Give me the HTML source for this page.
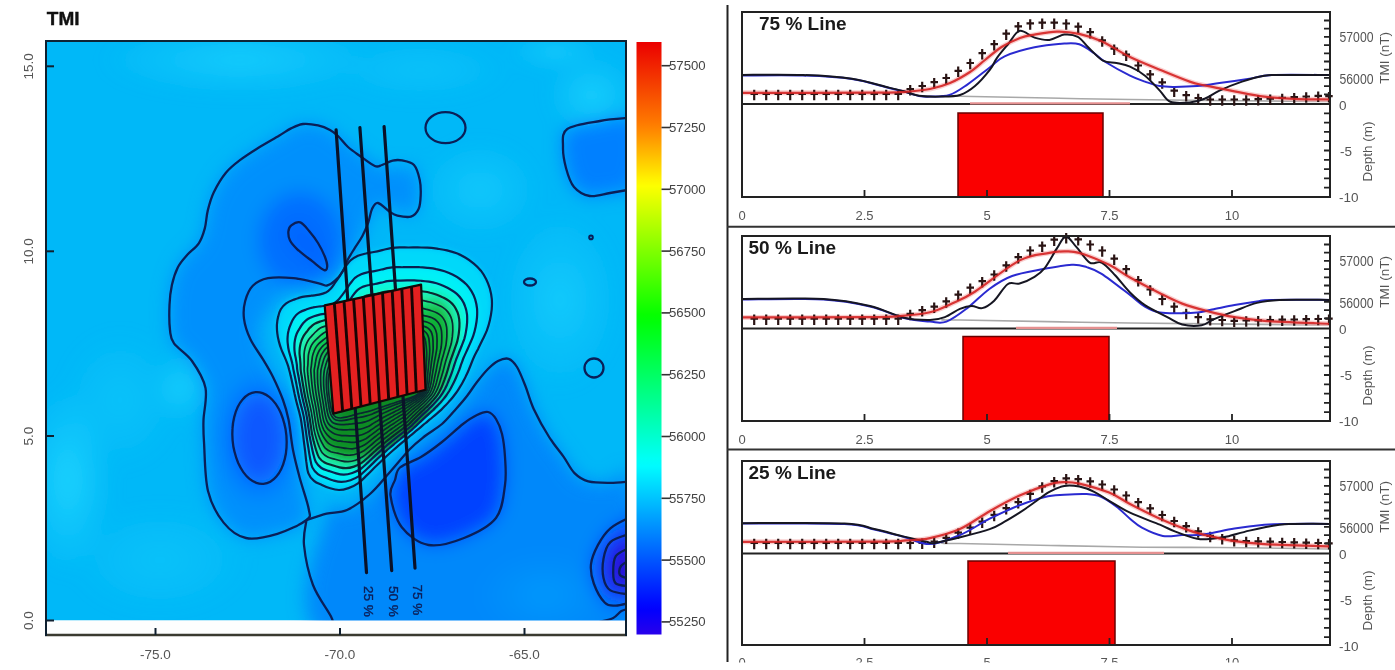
<!DOCTYPE html><html><head><meta charset="utf-8"><title>TMI</title><style>html,body{margin:0;padding:0;background:#fff;width:1395px;height:670px;overflow:hidden}svg{position:absolute;left:0;top:0;display:block;filter:blur(0.4px)}text{font-family:"Liberation Sans",Arial,sans-serif}</style></head><body>
<svg width="1395" height="670" viewBox="0 0 1395 670">
<defs>
<clipPath id="mc"><rect x="46" y="41" width="580" height="579.5"/></clipPath>
<filter id="bl" x="-10%" y="-10%" width="120%" height="120%"><feGaussianBlur stdDeviation="9"/></filter>
<filter id="bl2" x="-20%" y="-20%" width="140%" height="140%"><feGaussianBlur stdDeviation="3"/></filter>
<linearGradient id="cb" x1="0" y1="0" x2="0" y2="1">
<stop offset="0.0000" stop-color="#eb0000"/>
<stop offset="0.0135" stop-color="#ed0c00"/>
<stop offset="0.0270" stop-color="#ef1800"/>
<stop offset="0.0405" stop-color="#f12400"/>
<stop offset="0.0541" stop-color="#f33000"/>
<stop offset="0.0676" stop-color="#f43c00"/>
<stop offset="0.0811" stop-color="#f64800"/>
<stop offset="0.0946" stop-color="#f85400"/>
<stop offset="0.1081" stop-color="#fa6000"/>
<stop offset="0.1216" stop-color="#fc6c00"/>
<stop offset="0.1351" stop-color="#fe7800"/>
<stop offset="0.1486" stop-color="#ff8700"/>
<stop offset="0.1622" stop-color="#ff9800"/>
<stop offset="0.1757" stop-color="#ffaa00"/>
<stop offset="0.1892" stop-color="#ffbb00"/>
<stop offset="0.2027" stop-color="#ffcd00"/>
<stop offset="0.2162" stop-color="#ffde00"/>
<stop offset="0.2297" stop-color="#fff000"/>
<stop offset="0.2432" stop-color="#fdff00"/>
<stop offset="0.2568" stop-color="#eeff00"/>
<stop offset="0.2703" stop-color="#deff00"/>
<stop offset="0.2838" stop-color="#cfff00"/>
<stop offset="0.2973" stop-color="#bfff00"/>
<stop offset="0.3108" stop-color="#b0ff00"/>
<stop offset="0.3243" stop-color="#a0ff00"/>
<stop offset="0.3378" stop-color="#91ff00"/>
<stop offset="0.3514" stop-color="#81ff00"/>
<stop offset="0.3649" stop-color="#72ff00"/>
<stop offset="0.3784" stop-color="#63ff00"/>
<stop offset="0.3919" stop-color="#53ff00"/>
<stop offset="0.4054" stop-color="#44ff00"/>
<stop offset="0.4189" stop-color="#34ff00"/>
<stop offset="0.4324" stop-color="#25ff00"/>
<stop offset="0.4459" stop-color="#15ff00"/>
<stop offset="0.4595" stop-color="#06ff00"/>
<stop offset="0.4730" stop-color="#00ff09"/>
<stop offset="0.4865" stop-color="#00ff17"/>
<stop offset="0.5000" stop-color="#00ff24"/>
<stop offset="0.5135" stop-color="#00ff32"/>
<stop offset="0.5270" stop-color="#00ff40"/>
<stop offset="0.5405" stop-color="#00ff4e"/>
<stop offset="0.5541" stop-color="#00ff5c"/>
<stop offset="0.5676" stop-color="#00ff6a"/>
<stop offset="0.5811" stop-color="#00ff78"/>
<stop offset="0.5946" stop-color="#00ff86"/>
<stop offset="0.6081" stop-color="#00ff93"/>
<stop offset="0.6216" stop-color="#00ffa1"/>
<stop offset="0.6351" stop-color="#00ffaf"/>
<stop offset="0.6486" stop-color="#00ffbd"/>
<stop offset="0.6622" stop-color="#00ffcb"/>
<stop offset="0.6757" stop-color="#00ffd9"/>
<stop offset="0.6892" stop-color="#00ffe7"/>
<stop offset="0.7027" stop-color="#00fff5"/>
<stop offset="0.7162" stop-color="#00fbff"/>
<stop offset="0.7297" stop-color="#00edff"/>
<stop offset="0.7432" stop-color="#00dfff"/>
<stop offset="0.7568" stop-color="#00d1ff"/>
<stop offset="0.7703" stop-color="#00c3ff"/>
<stop offset="0.7838" stop-color="#00b5ff"/>
<stop offset="0.7973" stop-color="#00a6ff"/>
<stop offset="0.8108" stop-color="#0098ff"/>
<stop offset="0.8243" stop-color="#008aff"/>
<stop offset="0.8378" stop-color="#007cff"/>
<stop offset="0.8514" stop-color="#006eff"/>
<stop offset="0.8649" stop-color="#0060ff"/>
<stop offset="0.8784" stop-color="#0051ff"/>
<stop offset="0.8919" stop-color="#0043ff"/>
<stop offset="0.9054" stop-color="#0035ff"/>
<stop offset="0.9189" stop-color="#0027ff"/>
<stop offset="0.9324" stop-color="#0019ff"/>
<stop offset="0.9459" stop-color="#000bff"/>
<stop offset="0.9595" stop-color="#0300fd"/>
<stop offset="0.9730" stop-color="#0f00f7"/>
<stop offset="0.9865" stop-color="#1c00f1"/>
<stop offset="1.0000" stop-color="#2800eb"/>
<stop offset="1" stop-color="#2800eb"/>
</linearGradient>
<radialGradient id="lg"><stop offset="0" stop-color="#28dcff"/><stop offset="1" stop-color="#28dcff" stop-opacity="0"/></radialGradient>
<clipPath id="ringclip"><path d="M463.0,370.0 L460.5,375.8 L457.9,381.2 L455.2,386.4 L452.2,391.3 L449.0,395.9 L445.7,400.1 L442.1,404.1 L438.4,407.7 L434.5,411.0 L430.6,414.1 L426.8,417.1 L423.1,420.0 L419.4,422.9 L415.7,425.8 L411.9,428.8 L408.1,431.8 L404.2,434.9 L400.1,438.2 L395.9,441.6 L391.3,445.4 L386.4,449.6 L381.0,454.5 L374.9,460.2 L367.8,466.9 L359.6,474.3 L350.9,478.6 L342.2,480.3 L334.0,478.9 L326.3,476.1 L318.7,472.8 L313.1,466.2 L310.6,456.3 L308.9,446.7 L307.5,438.1 L306.4,430.1 L305.4,422.7 L304.3,416.0 L302.9,409.9 L301.4,404.1 L300.0,398.4 L298.8,392.7 L297.7,387.1 L296.6,381.4 L295.5,375.8 L294.3,370.0 L292.8,364.0 L290.5,357.7 L287.9,350.8 L285.9,343.6 L284.7,336.1 L284.7,328.5 L286.1,321.1 L288.8,314.2 L293.9,308.9 L301.2,305.6 L308.8,303.2 L316.8,302.0 L324.2,301.2 L330.3,299.3 L335.0,295.6 L339.1,290.3 L343.4,284.4 L347.9,277.4 L353.3,270.8 L359.8,266.9 L366.9,264.7 L374.3,263.5 L381.8,261.8 L389.6,260.0 L397.5,259.2 L405.6,259.3 L414.0,259.2 L422.7,259.4 L431.5,260.2 L440.6,261.6 L449.5,264.0 L457.8,267.9 L465.5,272.9 L472.2,279.0 L477.4,286.6 L481.0,295.1 L482.9,304.4 L482.9,314.2 L481.4,324.0 L478.8,333.3 L474.9,342.2 L471.2,350.2 L467.8,357.4 L465.3,363.9Z"/></clipPath>
<filter id="bl3" x="-50%" y="-50%" width="200%" height="200%"><feGaussianBlur stdDeviation="7"/></filter>
</defs>
<g clip-path="url(#mc)">
<rect x="0" y="0" width="700" height="670" fill="#00b8f8"/>
<g filter="url(#bl)">
<ellipse cx="240" cy="60" rx="140" ry="35" fill="url(#lg)" opacity="0.55"/>
<ellipse cx="560" cy="300" rx="60" ry="90" fill="url(#lg)" opacity="0.5"/>
<ellipse cx="68" cy="480" rx="45" ry="95" fill="url(#lg)" opacity="0.7"/>
<ellipse cx="180" cy="388" rx="28" ry="34" fill="url(#lg)" opacity="0.6"/>
<ellipse cx="120" cy="400" rx="60" ry="70" fill="url(#lg)" opacity="0.3"/>
<ellipse cx="592" cy="95" rx="45" ry="40" fill="url(#lg)" opacity="0.6"/>
<ellipse cx="555" cy="52" rx="45" ry="16" fill="url(#lg)" opacity="0.6"/>
<ellipse cx="160" cy="560" rx="90" ry="55" fill="url(#lg)" opacity="0.3"/>
<ellipse cx="480" cy="190" rx="60" ry="50" fill="url(#lg)" opacity="0.45"/>
<ellipse cx="420" cy="70" rx="90" ry="30" fill="url(#lg)" opacity="0.3"/>
<path d="M330.0,130.0C319.7,123.2 322.5,126.4 318.0,125.4C313.5,124.4 307.5,123.5 303.0,124.0C298.5,124.5 295.0,126.4 291.0,128.4C287.0,130.4 284.4,132.6 279.0,135.8C273.6,139.0 264.9,143.8 258.5,147.8C252.1,151.8 246.1,155.5 240.6,159.7C235.1,163.9 230.2,167.5 225.7,173.0C221.2,178.5 216.7,186.3 213.7,192.5C210.7,198.7 209.3,204.4 207.8,210.4C206.3,216.4 206.3,222.9 204.8,228.4C203.3,233.9 201.8,238.8 198.8,243.3C195.8,247.8 190.4,251.2 186.9,255.2C183.4,259.2 180.4,262.2 177.9,267.2C175.4,272.2 173.3,278.7 171.9,285.0C170.5,291.3 169.8,297.5 169.5,305.0C169.2,312.5 169.2,323.6 170.0,330.0C170.8,336.4 170.3,338.2 174.0,343.4C177.7,348.6 186.8,353.6 192.0,361.0C197.2,368.4 203.6,378.2 205.5,388.0C207.4,397.8 203.8,411.0 203.5,420.0C203.2,429.0 203.2,430.2 204.0,442.0C204.8,453.8 204.7,477.6 208.0,491.0C211.3,504.4 217.3,514.8 223.6,522.6C229.9,530.4 237.0,536.1 246.0,538.0C255.0,539.9 267.3,536.8 277.4,533.8C287.5,530.8 302.7,530.6 306.5,520.0C310.3,509.4 303.6,490.0 300.0,470.0C296.4,450.0 291.7,423.3 285.0,400.0C278.3,376.7 257.5,349.7 260.0,330.0C262.5,310.3 287.5,290.3 300.0,282.0C312.5,273.7 324.2,288.7 335.0,280.0C345.8,271.3 357.8,242.5 365.0,230.0C372.2,217.5 369.7,207.7 378.0,205.0C386.3,202.3 408.7,219.8 415.0,214.0C421.3,208.2 421.8,178.0 416.0,170.0C410.2,162.0 394.3,172.7 380.0,166.0C365.7,159.3 340.3,136.8 330.0,130.0Z" fill="#0090fc"/>
<ellipse cx="300" cy="240" rx="42" ry="48" fill="#0070ff"/>
<path d="M291.3,225.4C293.3,223.9 297.3,221.4 300.3,222.4C303.3,223.4 306.4,227.9 309.3,231.3C312.2,234.7 315.4,238.7 318.0,243.0C320.6,247.3 323.5,253.1 325.0,257.0C326.5,260.9 327.3,264.0 327.2,266.2C327.1,268.4 326.7,270.9 324.2,270.1C321.7,269.3 316.7,264.7 312.2,261.2C307.7,257.7 301.0,252.8 297.3,249.3C293.6,245.8 291.4,243.3 289.9,240.3C288.4,237.3 288.2,233.8 288.4,231.3C288.6,228.8 289.3,226.9 291.3,225.4Z" fill="#0062ff"/>
<ellipse cx="259" cy="438" rx="40" ry="62" fill="#0080ff"/>
<ellipse cx="259" cy="438" rx="26" ry="44" fill="#0858ff"/>
<path d="M326.6,513.6C329.4,491.9 339.8,513.3 347.0,510.0C354.2,506.7 362.8,500.3 370.0,494.0C377.2,487.7 383.3,479.5 390.0,472.0C396.7,464.5 404.2,455.0 410.0,449.0C415.8,443.0 419.7,440.2 425.0,436.0C430.3,431.8 436.8,428.5 442.0,424.0C447.2,419.5 451.8,413.7 456.0,409.0C460.2,404.3 463.5,400.5 467.0,396.0C470.5,391.5 473.5,386.5 477.0,382.0C480.5,377.5 484.5,372.5 488.0,369.0C491.5,365.5 494.6,362.7 498.0,361.0C501.4,359.3 505.4,357.8 508.6,358.8C511.8,359.8 514.2,362.5 517.0,367.0C519.8,371.5 522.6,379.0 525.4,386.0C528.2,393.0 529.7,400.4 533.7,409.0C537.7,417.6 544.4,429.6 549.4,437.5C554.4,445.4 559.3,450.7 563.5,456.6C567.7,462.5 570.4,469.0 574.5,473.1C578.6,477.2 582.3,479.8 588.3,481.4C594.3,483.0 603.4,482.8 610.4,482.8C617.4,482.8 626.7,455.2 630.0,481.4C633.3,507.6 680.0,613.6 630.0,640.0C580.0,666.4 380.6,661.1 330.0,640.0C279.4,618.9 323.8,535.3 326.6,513.6Z" fill="#0088fa"/>
<ellipse cx="545" cy="595" rx="70" ry="45" fill="url(#lg)" opacity="0.18"/>
<path d="M488.0,412.0C491.2,412.7 493.7,415.3 496.0,419.0C498.3,422.7 500.5,427.7 502.0,434.0C503.5,440.3 504.5,448.5 505.0,457.0C505.5,465.5 506.5,474.8 505.0,485.0C503.5,495.2 502.8,509.2 496.0,518.0C489.2,526.8 475.2,533.5 464.0,538.0C452.8,542.5 438.9,546.8 428.5,545.0C418.1,543.2 407.9,535.2 401.6,527.0C395.3,518.8 391.6,503.5 390.5,495.7C389.4,487.9 393.4,484.7 395.0,480.0C396.6,475.3 395.7,471.3 400.0,467.5C404.3,463.7 414.0,461.2 421.0,457.0C428.0,452.8 435.0,447.5 442.0,442.0C449.0,436.5 457.2,428.5 463.0,424.0C468.8,419.5 472.8,417.0 477.0,415.0C481.2,413.0 484.8,411.3 488.0,412.0Z" fill="#0642ff"/>
<path d="M630.0,117.8C623.3,113.0 610.5,119.1 600.0,121.0C589.5,122.9 573.5,124.7 567.3,129.0C561.1,133.3 563.2,140.5 563.0,147.0C562.8,153.5 564.2,161.3 566.0,168.0C567.8,174.7 570.0,182.3 574.0,187.0C578.0,191.7 583.7,195.0 589.7,196.0C595.7,197.0 603.3,194.1 610.0,193.0C616.7,191.9 625.0,196.7 630.0,189.5C635.0,182.3 640.0,161.9 640.0,150.0C640.0,138.1 636.7,122.6 630.0,117.8Z" fill="#0480ff"/>
<path d="M630.0,517.3C625.1,520.3 615.7,523.7 610.4,528.3C605.1,532.9 601.2,538.9 598.0,544.9C594.8,550.9 591.7,557.8 591.0,564.2C590.3,570.6 591.5,577.1 593.8,583.5C596.1,589.9 601.2,599.1 604.9,602.8C608.6,606.5 611.7,605.6 615.9,605.6C620.1,605.6 626.0,602.1 630.0,602.8C634.0,603.5 638.3,625.5 640.0,610.0C641.7,594.5 641.7,525.5 640.0,510.0C638.3,494.6 634.9,514.2 630.0,517.3Z" fill="#0450ff"/>
<path d="M630.0,533.8C625.1,535.8 614.8,538.0 610.4,542.1C606.0,546.2 604.6,552.7 603.5,558.7C602.4,564.7 602.4,572.7 603.5,578.0C604.6,583.3 606.0,587.6 610.4,590.4C614.8,593.2 625.1,594.7 630.0,594.6C634.9,594.5 638.3,600.8 640.0,590.0C641.7,579.2 641.7,539.4 640.0,530.0C638.3,520.6 634.9,531.8 630.0,533.8Z" fill="#1a22f0"/>
<path d="M630.0,547.6C626.0,549.4 618.7,551.8 615.9,555.9C613.1,560.0 613.2,567.9 613.2,572.5C613.2,577.1 613.1,581.2 615.9,583.5C618.7,585.8 626.0,586.9 630.0,586.3C634.0,585.7 638.3,586.9 640.0,580.0C641.7,573.1 641.7,550.4 640.0,545.0C638.3,539.6 634.0,545.8 630.0,547.6Z" fill="#2a08d0"/>
</g>
<g filter="url(#bl2)">
<path d="M468.7,370.0 L465.9,376.1 L462.9,381.9 L459.7,387.4 L456.4,392.5 L452.8,397.2 L449.0,401.6 L445.2,405.7 L441.4,409.6 L437.4,413.2 L433.4,416.5 L429.5,419.7 L425.7,423.0 L421.9,426.1 L418.0,429.3 L414.1,432.6 L410.1,435.9 L406.0,439.3 L401.7,442.9 L397.1,446.8 L392.3,451.0 L387.0,455.7 L381.2,461.2 L374.6,467.5 L367.0,475.1 L358.0,483.3 L348.5,488.1 L339.0,490.0 L330.2,488.3 L321.9,484.9 L314.0,480.9 L308.4,473.3 L306.3,461.7 L305.1,450.9 L303.9,441.6 L302.9,433.0 L301.8,425.3 L300.7,418.3 L299.2,411.9 L297.5,405.8 L296.0,399.9 L294.6,393.9 L293.4,388.0 L292.1,382.1 L290.7,376.1 L289.2,370.0 L287.3,363.7 L284.6,356.9 L281.4,349.5 L278.9,341.6 L277.3,333.3 L276.9,325.0 L278.1,316.9 L280.8,309.2 L286.2,303.3 L294.0,299.6 L302.3,296.9 L311.1,295.7 L319.1,294.7 L325.8,292.6 L330.9,288.4 L335.3,282.4 L339.9,275.8 L344.8,267.8 L350.7,260.3 L357.9,255.8 L365.8,253.5 L373.9,252.0 L382.2,250.1 L390.8,248.1 L399.6,247.3 L408.5,247.5 L417.8,247.4 L427.4,247.7 L437.1,248.7 L447.0,250.4 L456.7,253.3 L465.6,257.8 L473.8,263.6 L480.9,270.7 L486.2,279.2 L489.9,288.7 L491.8,298.9 L491.7,309.6 L489.9,320.2 L486.9,330.4 L482.4,340.1 L478.2,348.7 L474.2,356.5 L471.3,363.5Z" fill="#00d8fa"/>
<path d="M459.2,370.0 L456.9,375.5 L454.6,380.8 L452.1,385.8 L449.5,390.5 L446.6,395.0 L443.4,399.1 L440.0,403.0 L436.5,406.6 L433.1,410.0 L429.5,413.3 L426.1,416.4 L422.7,419.6 L419.3,422.8 L415.8,426.1 L412.3,429.4 L408.5,432.5 L404.5,435.6 L400.4,439.0 L396.1,442.5 L391.5,446.3 L386.5,450.6 L381.0,455.7 L374.8,461.4 L367.7,468.3 L359.4,475.8 L350.5,480.2 L341.6,481.9 L333.4,480.5 L325.5,477.6 L317.9,474.1 L312.3,467.4 L309.9,457.2 L308.3,447.4 L306.9,438.7 L305.8,430.6 L304.8,423.2 L303.7,416.4 L302.3,410.2 L300.7,404.4 L299.3,398.6 L298.1,392.9 L297.0,387.2 L295.9,381.5 L294.7,375.8 L293.5,370.0 L292.4,364.0 L290.8,357.7 L288.9,351.1 L287.8,344.1 L287.6,337.1 L288.6,330.2 L290.9,323.7 L294.1,317.6 L299.1,312.7 L306.0,309.6 L313.2,307.4 L320.6,306.3 L327.6,305.5 L333.3,303.8 L337.8,300.4 L341.7,295.6 L345.8,290.2 L350.0,283.9 L355.0,277.8 L361.1,274.2 L367.7,272.3 L374.5,271.1 L381.5,269.5 L388.7,267.9 L396.1,267.2 L403.6,267.2 L411.4,267.1 L419.5,267.2 L427.8,267.9 L436.3,269.1 L444.6,271.2 L452.5,274.6 L459.9,279.0 L466.5,284.5 L471.6,291.4 L475.2,299.4 L477.0,308.1 L477.0,317.4 L475.7,326.5 L473.4,335.3 L470.0,343.6 L466.6,351.2 L463.5,358.0 L461.2,364.2Z" fill="#00f0f8"/>
<path d="M452.7,370.0 L450.9,375.1 L448.9,380.0 L447.0,384.7 L444.8,389.2 L442.4,393.4 L439.6,397.4 L436.5,401.1 L433.3,404.5 L430.0,407.8 L426.8,410.9 L423.5,413.9 L420.3,417.0 L417.1,420.1 L413.9,423.3 L410.6,426.5 L407.0,429.4 L403.2,432.3 L399.2,435.4 L395.1,438.6 L390.7,442.1 L386.0,446.1 L380.8,450.6 L375.0,455.9 L368.3,462.2 L360.6,469.0 L352.3,473.0 L344.0,474.6 L336.2,473.4 L328.8,470.9 L321.4,468.0 L315.9,462.1 L313.1,453.1 L311.2,444.2 L309.6,436.0 L308.5,428.3 L307.5,421.2 L306.4,414.7 L305.1,408.8 L303.7,403.1 L302.4,397.5 L301.3,392.0 L300.3,386.5 L299.3,381.1 L298.3,375.6 L297.3,370.0 L296.8,364.3 L295.8,358.4 L294.7,352.3 L294.4,346.0 L295.0,339.8 L296.7,333.8 L299.7,328.4 L303.1,323.2 L307.8,319.0 L314.0,316.3 L320.5,314.4 L327.1,313.5 L333.3,312.8 L338.4,311.3 L342.5,308.5 L346.0,304.5 L349.7,300.0 L353.5,294.7 L358.0,289.7 L363.3,286.6 L369.1,285.0 L375.0,284.0 L381.1,282.6 L387.3,281.2 L393.8,280.6 L400.3,280.6 L407.1,280.3 L414.2,280.3 L421.5,280.8 L429.0,281.7 L436.5,283.3 L443.7,286.0 L450.5,289.5 L456.8,293.9 L461.8,299.7 L465.2,306.6 L467.0,314.4 L467.1,322.6 L466.1,330.8 L464.4,338.6 L461.6,346.0 L458.8,352.8 L456.3,359.0 L454.4,364.7Z" fill="#10f8d8"/>
<path d="M447.7,370.0 L446.2,374.8 L444.6,379.4 L442.9,383.8 L441.2,388.1 L439.1,392.2 L436.6,396.1 L433.7,399.6 L430.7,402.9 L427.6,406.1 L424.5,409.0 L421.4,411.9 L418.4,414.8 L415.3,417.8 L412.3,420.8 L409.2,424.0 L405.6,426.6 L402.0,429.3 L398.2,432.2 L394.2,435.1 L390.1,438.4 L385.6,442.0 L380.7,446.2 L375.2,451.0 L368.9,456.7 L361.6,462.9 L353.9,466.6 L346.1,468.2 L338.7,467.2 L331.6,465.0 L324.6,462.5 L319.0,457.5 L315.9,449.4 L313.7,441.4 L312.0,433.7 L310.9,426.3 L309.9,419.5 L308.8,413.2 L307.6,407.4 L306.3,401.9 L305.1,396.5 L304.1,391.2 L303.2,385.9 L302.3,380.6 L301.5,375.3 L300.7,370.0 L300.5,364.6 L300.1,359.0 L299.5,353.3 L299.8,347.6 L301.0,342.0 L303.2,336.7 L306.5,332.0 L310.1,327.6 L314.5,323.9 L320.3,321.5 L326.1,319.9 L332.1,319.1 L337.7,318.4 L342.4,317.2 L346.1,314.8 L349.4,311.4 L352.8,307.6 L356.3,303.1 L360.3,298.9 L365.0,296.3 L370.1,294.9 L375.3,294.0 L380.7,292.8 L386.2,291.6 L391.9,291.0 L397.7,290.9 L403.8,290.7 L410.1,290.6 L416.6,290.9 L423.3,291.5 L430.1,292.7 L436.8,294.8 L443.2,297.6 L449.3,301.2 L454.2,306.1 L457.5,312.2 L459.2,319.3 L459.4,326.7 L458.7,334.1 L457.3,341.1 L455.0,347.9 L452.8,354.1 L450.7,359.8 L449.1,365.0Z" fill="#20f0b0"/>
<path d="M443.4,370.0 L442.1,374.5 L440.8,378.8 L439.5,383.1 L438.1,387.2 L436.3,391.2 L434.1,395.0 L431.4,398.4 L428.4,401.5 L425.5,404.5 L422.5,407.3 L419.5,410.0 L416.5,412.8 L413.6,415.6 L410.7,418.5 L407.7,421.5 L404.3,423.9 L400.8,426.4 L397.2,429.0 L393.4,431.7 L389.4,434.7 L385.1,438.0 L380.5,441.8 L375.3,446.1 L369.5,451.3 L362.7,456.8 L355.5,460.2 L348.2,461.7 L341.3,460.9 L334.5,459.1 L327.7,457.1 L322.2,452.8 L318.8,445.8 L316.3,438.6 L314.4,431.4 L313.2,424.4 L312.3,417.8 L311.3,411.7 L310.1,406.1 L308.9,400.8 L307.8,395.6 L306.9,390.4 L306.1,385.3 L305.4,380.2 L304.7,375.1 L304.1,370.0 L304.2,364.8 L304.1,359.6 L304.1,354.3 L304.8,349.0 L306.4,343.9 L308.9,339.2 L312.5,335.2 L316.2,331.4 L320.3,328.1 L325.6,326.0 L331.0,324.6 L336.5,323.9 L341.5,323.3 L345.8,322.2 L349.3,320.2 L352.3,317.3 L355.4,314.1 L358.6,310.3 L362.2,306.7 L366.5,304.6 L371.0,303.4 L375.6,302.6 L380.4,301.6 L385.3,300.5 L390.4,299.9 L395.5,299.8 L400.9,299.5 L406.5,299.3 L412.4,299.5 L418.5,299.9 L424.7,300.8 L430.9,302.3 L437.0,304.5 L442.8,307.4 L447.6,311.6 L450.9,317.1 L452.5,323.4 L452.8,330.2 L452.3,336.9 L451.3,343.3 L449.4,349.5 L447.6,355.2 L445.9,360.5 L444.6,365.3Z" fill="#20e888"/>
<path d="M439.6,370.0 L438.5,374.2 L437.5,378.4 L436.5,382.4 L435.3,386.4 L433.8,390.3 L431.9,394.0 L429.3,397.3 L426.4,400.3 L423.6,403.1 L420.6,405.7 L417.7,408.3 L414.8,410.9 L412.0,413.5 L409.1,416.2 L406.3,418.9 L402.9,421.1 L399.6,423.4 L396.1,425.8 L392.5,428.2 L388.7,430.9 L384.7,433.9 L380.4,437.3 L375.5,441.2 L370.0,445.8 L363.8,450.8 L357.1,453.8 L350.3,455.2 L343.8,454.7 L337.4,453.2 L330.9,451.7 L325.3,448.1 L321.6,442.1 L318.8,435.7 L316.8,429.1 L315.6,422.4 L314.6,416.0 L313.7,410.2 L312.6,404.8 L311.5,399.6 L310.5,394.6 L309.7,389.6 L309.0,384.7 L308.4,379.8 L307.9,374.9 L307.5,370.0 L307.9,365.1 L308.1,360.2 L308.4,355.2 L309.5,350.4 L311.3,345.7 L314.1,341.6 L317.8,338.0 L321.5,334.7 L325.5,331.9 L330.4,330.0 L335.3,328.8 L340.3,328.1 L344.9,327.6 L348.8,326.7 L352.0,325.0 L354.9,322.6 L357.8,319.9 L360.7,316.8 L364.0,313.8 L367.8,311.9 L371.8,310.9 L375.9,310.2 L380.1,309.3 L384.5,308.4 L389.0,307.9 L393.5,307.7 L398.3,307.4 L403.4,307.1 L408.7,307.1 L414.2,307.3 L419.9,307.9 L425.6,309.1 L431.4,310.7 L437.1,313.0 L441.8,316.5 L445.0,321.3 L446.6,327.1 L446.9,333.4 L446.6,339.4 L445.9,345.3 L444.4,350.9 L443.0,356.2 L441.6,361.1 L440.6,365.6Z" fill="#18d860"/>
<path d="M436.3,370.0 L435.4,374.0 L434.6,378.0 L433.8,381.9 L432.9,385.7 L431.6,389.5 L429.9,393.1 L427.5,396.3 L424.7,399.2 L421.8,401.8 L418.9,404.3 L416.0,406.7 L413.1,409.0 L410.4,411.4 L407.6,413.9 L404.8,416.4 L401.6,418.4 L398.4,420.4 L395.1,422.6 L391.7,424.8 L388.1,427.2 L384.3,429.8 L380.2,432.9 L375.7,436.3 L370.6,440.3 L364.8,444.7 L358.7,447.5 L352.4,448.8 L346.3,448.4 L340.3,447.4 L334.0,446.2 L328.5,443.4 L324.5,438.5 L321.4,432.9 L319.3,426.7 L318.0,420.4 L317.0,414.3 L316.1,408.7 L315.1,403.4 L314.1,398.5 L313.2,393.6 L312.5,388.8 L311.9,384.0 L311.5,379.4 L311.1,374.7 L310.8,370.0 L311.4,365.3 L311.9,360.7 L312.5,356.1 L313.9,351.6 L315.9,347.4 L318.8,343.6 L322.5,340.5 L326.2,337.6 L330.0,335.1 L334.6,333.5 L339.1,332.5 L343.7,331.9 L347.8,331.4 L351.4,330.6 L354.4,329.2 L357.1,327.2 L359.8,325.0 L362.5,322.4 L365.5,319.9 L368.9,318.4 L372.5,317.5 L376.1,316.9 L379.9,316.1 L383.7,315.3 L387.7,314.8 L391.8,314.6 L396.1,314.3 L400.6,314.0 L405.4,313.8 L410.4,313.9 L415.6,314.2 L421.0,314.9 L426.5,316.1 L432.0,317.8 L436.7,320.8 L439.8,325.1 L441.4,330.4 L441.8,336.1 L441.7,341.7 L441.2,347.0 L440.1,352.2 L439.0,357.0 L437.9,361.6 L437.0,365.9Z" fill="#10cc48"/>
<path d="M433.1,370.0 L432.5,373.8 L431.9,377.6 L431.3,381.3 L430.6,385.1 L429.6,388.8 L428.1,392.3 L425.8,395.4 L423.0,398.1 L420.2,400.6 L417.2,402.9 L414.3,405.1 L411.5,407.2 L408.8,409.4 L406.0,411.6 L403.3,413.9 L400.3,415.6 L397.2,417.5 L394.0,419.4 L390.8,421.4 L387.4,423.5 L383.9,425.8 L380.0,428.4 L375.9,431.4 L371.2,434.9 L365.9,438.7 L360.3,441.1 L354.5,442.3 L348.9,442.1 L343.1,441.5 L337.1,440.8 L331.6,438.7 L327.3,434.9 L323.9,430.1 L321.7,424.4 L320.3,418.4 L319.4,412.6 L318.5,407.2 L317.6,402.1 L316.7,397.3 L315.9,392.6 L315.3,388.0 L314.8,383.4 L314.5,378.9 L314.3,374.5 L314.2,370.0 L315.0,365.6 L315.7,361.2 L316.6,356.9 L318.1,352.8 L320.3,349.0 L323.2,345.6 L326.9,342.8 L330.5,340.3 L334.2,338.2 L338.4,336.8 L342.6,335.8 L346.8,335.3 L350.6,334.9 L353.9,334.3 L356.7,333.1 L359.2,331.5 L361.7,329.7 L364.2,327.6 L366.9,325.6 L369.9,324.3 L373.1,323.6 L376.4,323.1 L379.7,322.4 L383.1,321.7 L386.6,321.3 L390.2,321.0 L394.0,320.6 L398.1,320.3 L402.4,320.1 L406.9,319.9 L411.7,320.0 L416.7,320.4 L422.0,321.1 L427.4,322.3 L432.0,324.7 L435.0,328.6 L436.6,333.4 L437.0,338.6 L437.0,343.7 L436.8,348.6 L436.0,353.4 L435.2,357.8 L434.4,362.1 L433.8,366.1Z" fill="#08c038"/>
<path d="M430.5,370.0 L430.0,373.6 L429.6,377.2 L429.2,380.9 L428.7,384.5 L427.9,388.2 L426.5,391.6 L424.3,394.6 L421.6,397.3 L418.7,399.6 L415.7,401.7 L412.8,403.6 L410.0,405.5 L407.2,407.4 L404.5,409.3 L401.9,411.3 L398.9,412.9 L396.0,414.5 L393.0,416.2 L389.9,417.9 L386.8,419.7 L383.4,421.7 L379.9,424.0 L376.0,426.5 L371.8,429.4 L367.0,432.6 L361.9,434.7 L356.6,435.8 L351.4,435.9 L346.0,435.6 L340.3,435.3 L334.8,434.0 L330.2,431.2 L326.5,427.2 L324.1,422.1 L322.7,416.4 L321.8,410.9 L320.9,405.7 L320.1,400.8 L319.3,396.2 L318.6,391.6 L318.1,387.2 L317.7,382.8 L317.5,378.5 L317.5,374.2 L317.6,370.0 L318.5,365.8 L319.3,361.8 L320.4,357.8 L322.0,353.9 L324.2,350.4 L327.1,347.4 L330.7,344.8 L334.2,342.6 L337.7,340.7 L341.7,339.5 L345.6,338.7 L349.4,338.2 L352.9,337.9 L356.0,337.3 L358.6,336.4 L361.0,335.1 L363.3,333.7 L365.7,332.0 L368.1,330.4 L370.8,329.4 L373.7,328.8 L376.5,328.3 L379.5,327.8 L382.5,327.2 L385.6,326.7 L388.9,326.4 L392.3,326.0 L395.9,325.7 L399.8,325.3 L403.9,325.1 L408.4,324.9 L413.1,325.0 L418.2,325.4 L423.4,326.1 L428.0,328.1 L431.0,331.5 L432.5,336.0 L433.0,340.8 L433.1,345.5 L433.1,349.9 L432.6,354.3 L432.0,358.5 L431.4,362.5 L431.0,366.3Z" fill="#08b030"/>
<path d="M428.1,370.0 L427.8,373.5 L427.5,377.0 L427.3,380.5 L427.0,384.0 L426.3,387.6 L425.1,391.0 L423.0,393.9 L420.3,396.4 L417.4,398.6 L414.3,400.5 L411.3,402.2 L408.5,403.9 L405.7,405.5 L403.0,407.1 L400.4,408.8 L397.6,410.2 L394.8,411.6 L392.0,413.0 L389.1,414.5 L386.1,416.0 L383.0,417.7 L379.7,419.5 L376.2,421.6 L372.3,424.0 L368.0,426.6 L363.5,428.3 L358.7,429.4 L353.9,429.6 L348.9,429.7 L343.4,429.9 L338.0,429.4 L333.0,427.6 L329.0,424.4 L326.5,419.7 L325.1,414.4 L324.1,409.1 L323.4,404.1 L322.6,399.5 L321.9,395.0 L321.3,390.6 L320.9,386.4 L320.7,382.2 L320.6,378.1 L320.7,374.0 L321.0,370.0 L321.9,366.1 L322.9,362.3 L324.1,358.5 L325.8,355.0 L328.0,351.8 L330.8,349.0 L334.1,346.7 L337.5,344.7 L341.0,343.1 L344.7,342.0 L348.3,341.3 L351.8,340.9 L355.0,340.6 L357.9,340.1 L360.3,339.4 L362.6,338.4 L364.8,337.3 L367.0,336.0 L369.2,334.8 L371.6,334.0 L374.2,333.5 L376.7,333.1 L379.3,332.6 L382.0,332.1 L384.8,331.7 L387.6,331.4 L390.7,331.0 L393.9,330.5 L397.4,330.1 L401.2,329.7 L405.4,329.4 L409.9,329.2 L414.7,329.2 L419.8,329.6 L424.3,331.1 L427.3,334.2 L428.8,338.3 L429.3,342.7 L429.6,347.0 L429.7,351.2 L429.5,355.2 L429.2,359.1 L428.8,362.9 L428.5,366.5Z" fill="#06a028"/>
<path d="M426.0,370.0 L425.7,373.3 L425.6,376.7 L425.6,380.1 L425.4,383.6 L424.9,387.1 L423.8,390.4 L421.9,393.3 L419.1,395.7 L416.1,397.7 L413.0,399.4 L409.9,400.8 L407.0,402.2 L404.2,403.6 L401.5,404.9 L398.9,406.3 L396.2,407.4 L393.6,408.6 L390.9,409.8 L388.2,411.0 L385.5,412.3 L382.6,413.6 L379.6,415.1 L376.4,416.7 L372.9,418.5 L369.1,420.5 L365.1,421.9 L360.8,422.9 L356.4,423.4 L351.8,423.8 L346.6,424.4 L341.1,424.7 L335.9,423.9 L331.6,421.6 L328.9,417.4 L327.4,412.4 L326.5,407.4 L325.8,402.6 L325.1,398.1 L324.5,393.8 L324.0,389.7 L323.7,385.6 L323.6,381.6 L323.6,377.6 L323.9,373.8 L324.4,370.0 L325.4,366.3 L326.4,362.8 L327.7,359.3 L329.4,356.1 L331.5,353.1 L334.2,350.5 L337.3,348.4 L340.5,346.6 L343.9,345.2 L347.4,344.3 L350.7,343.7 L354.0,343.3 L356.9,343.0 L359.6,342.7 L361.9,342.1 L364.0,341.4 L366.1,340.6 L368.1,339.6 L370.2,338.7 L372.4,338.1 L374.6,337.7 L376.9,337.4 L379.2,337.0 L381.5,336.5 L384.0,336.2 L386.5,335.8 L389.2,335.4 L392.2,334.9 L395.3,334.4 L398.8,333.9 L402.7,333.4 L406.9,333.0 L411.6,332.7 L416.6,332.7 L421.0,333.9 L424.0,336.6 L425.4,340.4 L426.0,344.5 L426.4,348.5 L426.7,352.3 L426.7,356.0 L426.6,359.7 L426.4,363.2 L426.2,366.6Z" fill="#069824"/>
<path d="M424.1,370.0 L423.9,373.2 L424.0,376.5 L424.1,379.8 L424.1,383.2 L423.7,386.6 L422.7,389.9 L420.8,392.8 L418.1,395.0 L415.0,396.9 L411.8,398.3 L408.7,399.6 L405.7,400.7 L402.9,401.8 L400.2,402.9 L397.6,403.9 L395.0,404.8 L392.5,405.8 L390.0,406.8 L387.4,407.8 L384.8,408.8 L382.2,409.8 L379.4,410.9 L376.5,412.1 L373.4,413.4 L370.1,414.8 L366.5,415.9 L362.8,416.8 L358.8,417.5 L354.5,418.2 L349.5,419.3 L344.1,420.3 L338.5,420.5 L334.0,418.9 L331.2,415.2 L329.6,410.6 L328.8,405.8 L328.0,401.2 L327.4,396.9 L326.9,392.8 L326.5,388.7 L326.3,384.8 L326.3,381.0 L326.5,377.2 L326.9,373.6 L327.6,370.0 L328.6,366.5 L329.7,363.2 L331.0,360.0 L332.7,357.0 L334.8,354.3 L337.3,351.9 L340.1,349.9 L343.2,348.2 L346.4,347.1 L349.7,346.3 L352.9,345.8 L355.9,345.4 L358.6,345.2 L361.1,344.9 L363.3,344.5 L365.3,344.0 L367.3,343.5 L369.2,342.8 L371.1,342.2 L373.0,341.8 L375.0,341.5 L377.0,341.2 L379.0,340.9 L381.1,340.5 L383.3,340.1 L385.5,339.8 L388.0,339.3 L390.6,338.8 L393.5,338.3 L396.7,337.7 L400.2,337.0 L404.3,336.4 L408.8,335.8 L413.7,335.5 L418.1,336.3 L421.1,338.7 L422.5,342.2 L423.1,346.0 L423.6,349.7 L424.0,353.2 L424.2,356.8 L424.3,360.2 L424.2,363.5 L424.2,366.8Z" fill="#069020"/>
<path d="M422.4,370.0 L422.4,373.1 L422.5,376.3 L422.7,379.5 L422.8,382.9 L422.6,386.2 L421.7,389.5 L419.9,392.3 L417.2,394.5 L414.0,396.2 L410.8,397.5 L407.6,398.6 L404.6,399.6 L401.8,400.5 L399.1,401.3 L396.6,402.1 L394.1,403.0 L391.6,403.8 L389.2,404.6 L386.8,405.4 L384.4,406.2 L381.9,407.0 L379.3,407.8 L376.6,408.7 L373.8,409.7 L370.8,410.7 L367.6,411.6 L364.2,412.4 L360.6,413.2 L356.5,414.2 L351.7,415.6 L346.2,417.1 L340.5,418.0 L335.7,417.0 L332.8,413.6 L331.3,409.2 L330.4,404.6 L329.7,400.2 L329.1,396.0 L328.7,392.0 L328.4,388.1 L328.3,384.3 L328.3,380.6 L328.5,377.0 L329.1,373.4 L329.9,370.0 L331.0,366.7 L332.2,363.6 L333.6,360.6 L335.3,357.8 L337.4,355.2 L339.8,353.0 L342.5,351.1 L345.5,349.7 L348.7,348.7 L351.8,348.0 L354.8,347.6 L357.6,347.3 L360.1,347.1 L362.4,346.9 L364.5,346.6 L366.4,346.3 L368.3,346.0 L370.1,345.6 L371.8,345.3 L373.6,345.0 L375.3,344.8 L377.1,344.6 L378.9,344.3 L380.7,344.0 L382.7,343.6 L384.7,343.2 L386.9,342.8 L389.2,342.2 L391.8,341.6 L394.8,340.9 L398.1,340.2 L402.0,339.3 L406.4,338.5 L411.2,337.9 L415.6,338.5 L418.5,340.6 L419.9,343.8 L420.5,347.4 L421.1,350.8 L421.7,354.1 L422.0,357.4 L422.2,360.6 L422.4,363.8 L422.4,366.9Z" fill="#06881c"/>
<path d="M421.0,370.0 L421.0,373.0 L421.3,376.1 L421.6,379.3 L421.8,382.6 L421.7,385.9 L420.9,389.1 L419.1,391.9 L416.4,394.0 L413.2,395.6 L410.0,396.9 L406.9,397.9 L403.9,398.7 L401.0,399.5 L398.4,400.2 L395.8,400.9 L393.4,401.6 L391.0,402.3 L388.7,403.0 L386.4,403.7 L384.1,404.3 L381.7,405.0 L379.2,405.6 L376.7,406.3 L374.1,406.9 L371.4,407.6 L368.4,408.4 L365.3,409.2 L361.8,410.1 L357.9,411.2 L353.3,412.8 L347.8,414.7 L341.9,416.2 L337.0,415.6 L334.0,412.5 L332.5,408.2 L331.6,403.7 L330.9,399.4 L330.4,395.3 L330.0,391.4 L329.7,387.6 L329.7,383.9 L329.8,380.3 L330.1,376.7 L330.7,373.3 L331.6,370.0 L332.7,366.8 L334.0,363.8 L335.6,361.0 L337.4,358.4 L339.5,356.0 L341.9,353.9 L344.6,352.2 L347.5,351.0 L350.6,350.1 L353.6,349.5 L356.4,349.2 L359.0,348.9 L361.4,348.7 L363.5,348.5 L365.5,348.4 L367.4,348.3 L369.2,348.2 L370.9,348.0 L372.5,347.9 L374.1,347.8 L375.6,347.6 L377.2,347.4 L378.8,347.2 L380.4,346.9 L382.1,346.6 L383.9,346.2 L385.9,345.7 L388.0,345.1 L390.4,344.5 L393.2,343.7 L396.3,342.8 L400.0,341.8 L404.3,340.8 L409.0,340.0 L413.4,340.3 L416.3,342.2 L417.6,345.2 L418.3,348.6 L418.9,351.8 L419.7,354.8 L420.2,357.9 L420.5,361.0 L420.7,364.0 L420.9,367.0Z" fill="#06801a"/>
</g>
<g clip-path="url(#ringclip)"><g filter="url(#bl3)">
<ellipse cx="378" cy="425" rx="58" ry="30" fill="#088a22" opacity="0.95" transform="rotate(-18 378 425)"/>
<ellipse cx="436" cy="350" rx="16" ry="50" fill="#10a830" opacity="0.8"/>
<ellipse cx="325" cy="385" rx="14" ry="40" fill="#20c070" opacity="0.7"/>
</g>
</g>
</g>
<g fill="none" stroke="#0a1f58" stroke-width="2.3" stroke-linejoin="round" clip-path="url(#mc)">
<path d="M330.0,130.0C326.7,128.2 322.5,126.4 318.0,125.4C313.5,124.4 307.5,123.5 303.0,124.0C298.5,124.5 295.0,126.4 291.0,128.4C287.0,130.4 284.4,132.6 279.0,135.8C273.6,139.0 264.9,143.8 258.5,147.8C252.1,151.8 246.1,155.5 240.6,159.7C235.1,163.9 230.2,167.5 225.7,173.0C221.2,178.5 216.7,186.3 213.7,192.5C210.7,198.7 209.3,204.4 207.8,210.4C206.3,216.4 206.3,222.9 204.8,228.4C203.3,233.9 201.8,238.8 198.8,243.3C195.8,247.8 190.4,251.2 186.9,255.2C183.4,259.2 180.4,262.2 177.9,267.2C175.4,272.2 173.3,278.7 171.9,285.0C170.5,291.3 169.8,297.5 169.5,305.0C169.2,312.5 169.2,323.6 170.0,330.0C170.8,336.4 170.3,338.2 174.0,343.4C177.7,348.6 186.8,353.6 192.0,361.0C197.2,368.4 203.6,378.2 205.5,388.0C207.4,397.8 203.8,411.0 203.5,420.0C203.2,429.0 203.2,430.2 204.0,442.0C204.8,453.8 204.7,477.6 208.0,491.0C211.3,504.4 217.3,514.8 223.6,522.6C229.9,530.4 237.0,536.1 246.0,538.0C255.0,539.9 267.3,536.8 277.4,533.8C287.5,530.8 301.3,524.1 306.5,520.0C311.7,515.9 309.8,516.0 308.7,509.0C307.6,502.0 302.3,487.6 299.7,477.8C297.1,468.0 294.9,459.7 293.0,450.0C291.1,440.3 290.2,427.9 288.5,419.6C286.8,411.3 285.6,407.1 283.0,400.0C280.4,392.9 276.3,383.8 273.0,377.0C269.7,370.2 266.8,365.7 263.0,359.4C259.2,353.1 253.5,345.8 250.3,339.0C247.1,332.2 244.8,325.1 244.0,318.8C243.2,312.5 243.7,306.5 245.2,301.0C246.7,295.5 249.0,289.6 252.8,285.8C256.6,282.0 261.2,279.5 268.0,278.2C274.8,276.9 285.0,277.3 293.5,278.2C302.0,279.1 313.2,282.1 318.8,283.3C324.4,284.5 324.3,285.9 327.0,285.5C329.7,285.1 332.3,283.1 335.0,280.7C337.7,278.3 340.8,274.6 343.0,271.0C345.2,267.4 346.0,263.2 348.0,259.3C350.0,255.4 352.6,251.6 355.0,247.7C357.4,243.8 360.2,240.2 362.4,236.0C364.6,231.8 366.7,226.9 368.3,222.4C369.9,217.9 370.5,212.0 372.1,208.8C373.7,205.6 375.1,202.5 378.0,203.0C380.9,203.5 386.4,209.6 389.6,211.7C392.8,213.8 393.8,214.8 397.4,215.6C401.0,216.4 407.4,217.7 411.0,216.6C414.6,215.5 417.1,212.4 418.7,208.8C420.3,205.2 420.5,200.0 420.7,195.2C420.9,190.3 420.8,184.7 419.7,179.7C418.6,174.7 416.9,168.2 414.0,165.0C411.1,161.8 405.6,161.1 402.0,160.4C398.4,159.7 396.0,159.8 392.7,160.6C389.4,161.4 385.0,164.1 382.0,165.0C379.0,165.9 378.5,167.5 374.8,166.0C371.1,164.5 364.5,159.2 360.0,156.0C355.5,152.8 351.7,150.3 348.0,147.0C344.3,143.7 341.0,138.8 338.0,136.0C335.0,133.2 333.3,131.8 330.0,130.0Z"/>
<path d="M291.3,225.4C293.3,223.9 297.3,221.4 300.3,222.4C303.3,223.4 306.4,227.9 309.3,231.3C312.2,234.7 315.4,238.7 318.0,243.0C320.6,247.3 323.5,253.1 325.0,257.0C326.5,260.9 327.3,264.0 327.2,266.2C327.1,268.4 326.7,270.9 324.2,270.1C321.7,269.3 316.7,264.7 312.2,261.2C307.7,257.7 301.0,252.8 297.3,249.3C293.6,245.8 291.4,243.3 289.9,240.3C288.4,237.3 288.2,233.8 288.4,231.3C288.6,228.8 289.3,226.9 291.3,225.4Z"/>
<path d="M306.5,520.0C309.9,518.9 319.9,515.3 326.6,513.6C333.4,511.9 339.8,513.3 347.0,510.0C354.2,506.7 362.8,500.3 370.0,494.0C377.2,487.7 383.3,479.5 390.0,472.0C396.7,464.5 404.2,455.0 410.0,449.0C415.8,443.0 419.7,440.2 425.0,436.0C430.3,431.8 436.8,428.5 442.0,424.0C447.2,419.5 451.8,413.7 456.0,409.0C460.2,404.3 463.5,400.5 467.0,396.0C470.5,391.5 473.5,386.5 477.0,382.0C480.5,377.5 484.5,372.5 488.0,369.0C491.5,365.5 494.6,362.7 498.0,361.0C501.4,359.3 505.4,357.8 508.6,358.8C511.8,359.8 514.2,362.5 517.0,367.0C519.8,371.5 522.6,379.0 525.4,386.0C528.2,393.0 529.7,400.4 533.7,409.0C537.7,417.6 544.4,429.6 549.4,437.5C554.4,445.4 559.3,450.7 563.5,456.6C567.7,462.5 570.4,469.0 574.5,473.1C578.6,477.2 582.3,479.8 588.3,481.4C594.3,483.0 603.4,482.8 610.4,482.8C617.4,482.8 626.7,481.6 630.0,481.4"/>
<path d="M306.5,520.0C306.1,524.2 302.9,534.2 304.0,545.0C305.1,555.8 308.5,573.1 313.0,585.0C317.5,596.9 327.7,609.9 331.0,616.6C334.3,623.3 332.7,623.6 333.0,625.0"/>
<path d="M488.0,412.0C491.2,412.7 493.7,415.3 496.0,419.0C498.3,422.7 500.5,427.7 502.0,434.0C503.5,440.3 504.5,448.5 505.0,457.0C505.5,465.5 506.5,474.8 505.0,485.0C503.5,495.2 502.8,509.2 496.0,518.0C489.2,526.8 475.2,533.5 464.0,538.0C452.8,542.5 438.9,546.8 428.5,545.0C418.1,543.2 407.9,535.2 401.6,527.0C395.3,518.8 391.6,503.5 390.5,495.7C389.4,487.9 393.4,484.7 395.0,480.0C396.6,475.3 395.7,471.3 400.0,467.5C404.3,463.7 414.0,461.2 421.0,457.0C428.0,452.8 435.0,447.5 442.0,442.0C449.0,436.5 457.2,428.5 463.0,424.0C468.8,419.5 472.8,417.0 477.0,415.0C481.2,413.0 484.8,411.3 488.0,412.0Z"/>
<path d="M630.0,117.8C625.0,118.3 610.5,119.1 600.0,121.0C589.5,122.9 573.5,124.7 567.3,129.0C561.1,133.3 563.2,140.5 563.0,147.0C562.8,153.5 564.2,161.3 566.0,168.0C567.8,174.7 570.0,182.3 574.0,187.0C578.0,191.7 583.7,195.0 589.7,196.0C595.7,197.0 603.3,194.1 610.0,193.0C616.7,191.9 626.7,190.1 630.0,189.5"/>
<path d="M630.0,517.3C626.7,519.1 615.7,523.7 610.4,528.3C605.1,532.9 601.2,538.9 598.0,544.9C594.8,550.9 591.7,557.8 591.0,564.2C590.3,570.6 591.5,577.1 593.8,583.5C596.1,589.9 601.2,599.1 604.9,602.8C608.6,606.5 611.7,605.6 615.9,605.6C620.1,605.6 627.6,603.3 630.0,602.8"/>
<path d="M599.4,622.0C601.7,621.3 609.5,619.8 613.2,618.0C616.9,616.2 618.6,612.7 621.4,611.1C624.2,609.5 628.6,608.9 630.0,608.4"/>
<path d="M630.0,533.8C626.7,535.2 614.8,538.0 610.4,542.1C606.0,546.2 604.6,552.7 603.5,558.7C602.4,564.7 602.4,572.7 603.5,578.0C604.6,583.3 606.0,587.6 610.4,590.4C614.8,593.2 626.7,593.9 630.0,594.6"/>
<path d="M630.0,547.6C627.6,549.0 618.7,551.8 615.9,555.9C613.1,560.0 613.2,567.9 613.2,572.5C613.2,577.1 613.1,581.2 615.9,583.5C618.7,585.8 627.6,585.8 630.0,586.3"/>
<path d="M630.0,560.0C628.5,561.0 622.7,563.5 621.0,566.0C619.3,568.5 618.5,572.8 620.0,575.0C621.5,577.2 628.3,578.3 630.0,579.0"/>
<ellipse cx="445.5" cy="127.7" rx="20" ry="15.5"/>
<ellipse cx="530" cy="282" rx="6" ry="3.5"/>
<ellipse cx="594" cy="368" rx="9.5" ry="9.5"/>
<ellipse cx="591" cy="237.4" rx="1.8" ry="1.8" stroke-width="2"/>
<path d="M286.4,435.6C286.7,439.6 286.8,443.7 286.5,447.6C286.3,451.5 285.7,455.3 284.8,458.9C283.9,462.4 282.8,465.8 281.4,468.7C280.0,471.7 278.3,474.4 276.4,476.5C274.6,478.7 272.5,480.4 270.3,481.7C268.2,482.9 265.8,483.6 263.5,483.8C261.2,484.0 258.7,483.7 256.4,482.9C254.1,482.0 251.7,480.7 249.5,478.9C247.3,477.1 245.2,474.7 243.3,472.1C241.4,469.4 239.7,466.3 238.2,463.0C236.8,459.6 235.5,455.9 234.6,452.1C233.6,448.4 232.9,444.3 232.6,440.4C232.3,436.4 232.2,432.3 232.5,428.4C232.7,424.5 233.3,420.7 234.2,417.1C235.1,413.6 236.2,410.2 237.6,407.3C239.0,404.3 240.7,401.6 242.6,399.5C244.4,397.3 246.5,395.6 248.7,394.3C250.8,393.1 253.2,392.4 255.5,392.2C257.8,392.0 260.3,392.3 262.6,393.1C264.9,394.0 267.3,395.3 269.5,397.1C271.7,398.9 273.8,401.3 275.7,403.9C277.6,406.6 279.3,409.7 280.8,413.0C282.2,416.4 283.5,420.1 284.4,423.9C285.4,427.6 286.1,431.7 286.4,435.6Z"/>
<path d="M468.7,370.0C467.8,372.1 466.9,374.2 465.9,376.1C465.0,378.1 463.9,380.1 462.9,381.9C461.9,383.8 460.8,385.6 459.7,387.4C458.7,389.1 457.5,390.8 456.4,392.5C455.2,394.1 454.0,395.7 452.8,397.2C451.6,398.7 450.3,400.2 449.0,401.6C447.8,403.0 446.5,404.4 445.2,405.7C443.9,407.1 442.7,408.4 441.4,409.6C440.1,410.8 438.7,412.0 437.4,413.2C436.1,414.3 434.7,415.4 433.4,416.5C432.1,417.6 430.8,418.7 429.5,419.7C428.2,420.8 427.0,421.9 425.7,423.0C424.4,424.0 423.1,425.1 421.9,426.1C420.6,427.2 419.3,428.3 418.0,429.3C416.7,430.4 415.4,431.5 414.1,432.6C412.8,433.7 411.5,434.8 410.1,435.9C408.8,437.0 407.4,438.2 406.0,439.3C404.6,440.5 403.2,441.7 401.7,442.9C400.2,444.2 398.7,445.4 397.1,446.8C395.6,448.1 394.0,449.5 392.3,451.0C390.6,452.5 388.9,454.0 387.0,455.7C385.2,457.4 383.3,459.2 381.2,461.2C379.1,463.2 377.0,465.2 374.6,467.5C372.2,469.9 369.7,472.5 367.0,475.1C364.2,477.8 361.1,481.2 358.0,483.3C354.9,485.5 351.7,487.0 348.5,488.1C345.4,489.2 342.1,490.0 339.0,490.0C336.0,490.0 333.0,489.2 330.2,488.3C327.4,487.5 324.6,486.2 321.9,484.9C319.2,483.7 316.2,482.9 314.0,480.9C311.7,479.0 309.6,476.5 308.4,473.3C307.1,470.1 306.9,465.5 306.3,461.7C305.8,458.0 305.5,454.3 305.1,450.9C304.7,447.6 304.3,444.5 303.9,441.6C303.5,438.6 303.2,435.8 302.9,433.0C302.5,430.3 302.2,427.8 301.8,425.3C301.5,422.9 301.1,420.6 300.7,418.3C300.2,416.1 299.7,414.0 299.2,411.9C298.7,409.8 298.0,407.8 297.5,405.8C297.0,403.8 296.4,401.8 296.0,399.9C295.5,397.9 295.1,395.9 294.6,393.9C294.2,391.9 293.8,390.0 293.4,388.0C292.9,386.0 292.5,384.1 292.1,382.1C291.7,380.1 291.2,378.1 290.7,376.1C290.3,374.1 289.8,372.1 289.2,370.0C288.7,367.9 288.1,365.8 287.3,363.7C286.5,361.5 285.6,359.2 284.6,356.9C283.6,354.5 282.3,352.0 281.4,349.5C280.4,346.9 279.6,344.3 278.9,341.6C278.2,338.9 277.6,336.1 277.3,333.3C277.0,330.6 276.8,327.7 276.9,325.0C277.1,322.3 277.4,319.5 278.1,316.9C278.7,314.2 279.4,311.5 280.8,309.2C282.1,307.0 284.0,304.9 286.2,303.3C288.4,301.7 291.4,300.6 294.0,299.6C296.7,298.5 299.5,297.6 302.3,296.9C305.2,296.3 308.3,296.0 311.1,295.7C313.9,295.3 316.7,295.2 319.1,294.7C321.6,294.2 323.8,293.6 325.8,292.6C327.7,291.5 329.3,290.1 330.9,288.4C332.5,286.7 333.8,284.5 335.3,282.4C336.8,280.3 338.3,278.2 339.9,275.8C341.5,273.3 343.0,270.4 344.8,267.8C346.6,265.2 348.5,262.3 350.7,260.3C352.8,258.3 355.4,257.0 357.9,255.8C360.4,254.7 363.1,254.1 365.8,253.5C368.4,252.8 371.1,252.6 373.9,252.0C376.6,251.5 379.4,250.8 382.2,250.1C385.0,249.5 387.9,248.6 390.8,248.1C393.7,247.7 396.7,247.4 399.6,247.3C402.6,247.2 405.5,247.5 408.5,247.5C411.6,247.5 414.7,247.4 417.8,247.4C421.0,247.5 424.2,247.5 427.4,247.7C430.6,247.9 433.9,248.3 437.1,248.7C440.4,249.2 443.8,249.6 447.0,250.4C450.3,251.2 453.6,252.1 456.7,253.3C459.8,254.5 462.8,256.1 465.6,257.8C468.5,259.5 471.3,261.5 473.8,263.6C476.3,265.7 478.8,268.1 480.9,270.7C482.9,273.3 484.7,276.2 486.2,279.2C487.7,282.2 488.9,285.5 489.9,288.7C490.8,292.0 491.5,295.4 491.8,298.9C492.1,302.3 492.0,306.0 491.7,309.6C491.3,313.1 490.7,316.7 489.9,320.2C489.1,323.6 488.1,327.1 486.9,330.4C485.6,333.7 483.9,337.0 482.4,340.1C481.0,343.1 479.5,346.0 478.2,348.7C476.8,351.4 475.4,354.0 474.2,356.5C473.1,358.9 472.2,361.2 471.3,363.5C470.4,365.7 469.6,367.9 468.7,370.0Z" stroke="#0a2050" stroke-width="2.2"/>
<path d="M459.2,370.0C458.4,371.9 457.7,373.7 456.9,375.5C456.2,377.3 455.4,379.1 454.6,380.8C453.8,382.5 453.0,384.1 452.1,385.8C451.3,387.4 450.4,389.0 449.5,390.5C448.5,392.0 447.6,393.5 446.6,395.0C445.6,396.4 444.5,397.8 443.4,399.1C442.3,400.5 441.1,401.7 440.0,403.0C438.9,404.2 437.7,405.4 436.5,406.6C435.4,407.8 434.2,408.9 433.1,410.0C431.9,411.1 430.7,412.2 429.5,413.3C428.4,414.3 427.2,415.4 426.1,416.4C424.9,417.5 423.8,418.5 422.7,419.6C421.5,420.7 420.4,421.7 419.3,422.8C418.1,423.9 417.0,425.0 415.8,426.1C414.6,427.1 413.5,428.3 412.3,429.4C411.1,430.5 409.8,431.4 408.5,432.5C407.2,433.5 405.9,434.6 404.5,435.6C403.2,436.7 401.8,437.8 400.4,439.0C399.0,440.1 397.6,441.2 396.1,442.5C394.6,443.7 393.1,445.0 391.5,446.3C389.9,447.7 388.2,449.1 386.5,450.6C384.7,452.2 382.9,453.9 381.0,455.7C379.0,457.4 377.0,459.3 374.8,461.4C372.6,463.5 370.2,465.9 367.7,468.3C365.1,470.7 362.2,473.8 359.4,475.8C356.5,477.7 353.5,479.1 350.5,480.2C347.6,481.2 344.5,481.9 341.6,481.9C338.8,482.0 336.0,481.2 333.4,480.5C330.7,479.8 328.1,478.6 325.5,477.6C323.0,476.5 320.1,475.8 317.9,474.1C315.7,472.4 313.6,470.2 312.3,467.4C311.0,464.6 310.6,460.5 309.9,457.2C309.2,453.8 308.8,450.5 308.3,447.4C307.8,444.3 307.3,441.5 306.9,438.7C306.5,435.8 306.2,433.1 305.8,430.6C305.5,428.0 305.2,425.5 304.8,423.2C304.5,420.8 304.1,418.6 303.7,416.4C303.3,414.3 302.8,412.2 302.3,410.2C301.8,408.2 301.2,406.3 300.7,404.4C300.3,402.5 299.8,400.5 299.3,398.6C298.9,396.7 298.5,394.8 298.1,392.9C297.7,391.0 297.4,389.1 297.0,387.2C296.6,385.3 296.3,383.4 295.9,381.5C295.5,379.6 295.1,377.7 294.7,375.8C294.3,373.9 293.9,372.0 293.5,370.0C293.1,368.0 292.9,366.1 292.4,364.0C292.0,362.0 291.4,359.9 290.8,357.7C290.2,355.6 289.4,353.3 288.9,351.1C288.4,348.8 288.0,346.5 287.8,344.1C287.5,341.8 287.4,339.4 287.6,337.1C287.7,334.8 288.0,332.4 288.6,330.2C289.1,328.0 290.0,325.8 290.9,323.7C291.8,321.6 292.8,319.4 294.1,317.6C295.5,315.7 297.1,314.0 299.1,312.7C301.1,311.3 303.6,310.4 306.0,309.6C308.3,308.7 310.7,307.9 313.2,307.4C315.6,306.8 318.2,306.6 320.6,306.3C323.0,306.0 325.5,305.9 327.6,305.5C329.7,305.1 331.6,304.6 333.3,303.8C335.0,302.9 336.4,301.8 337.8,300.4C339.2,299.0 340.4,297.3 341.7,295.6C343.0,293.9 344.4,292.2 345.8,290.2C347.2,288.3 348.5,285.9 350.0,283.9C351.6,281.8 353.2,279.4 355.0,277.8C356.9,276.2 359.0,275.2 361.1,274.2C363.2,273.3 365.5,272.8 367.7,272.3C370.0,271.8 372.2,271.6 374.5,271.1C376.8,270.6 379.1,270.1 381.5,269.5C383.9,269.0 386.3,268.3 388.7,267.9C391.2,267.5 393.6,267.3 396.1,267.2C398.6,267.1 401.1,267.3 403.6,267.2C406.2,267.2 408.8,267.1 411.4,267.1C414.1,267.1 416.8,267.0 419.5,267.2C422.3,267.3 425.0,267.6 427.8,267.9C430.6,268.2 433.5,268.5 436.3,269.1C439.1,269.6 441.9,270.3 444.6,271.2C447.3,272.1 450.0,273.3 452.5,274.6C455.1,275.9 457.6,277.4 459.9,279.0C462.2,280.7 464.5,282.5 466.5,284.5C468.5,286.6 470.2,289.0 471.6,291.4C473.1,293.9 474.3,296.6 475.2,299.4C476.0,302.2 476.7,305.1 477.0,308.1C477.3,311.1 477.2,314.3 477.0,317.4C476.8,320.4 476.3,323.5 475.7,326.5C475.1,329.5 474.4,332.4 473.4,335.3C472.5,338.1 471.1,341.0 470.0,343.6C468.8,346.3 467.7,348.8 466.6,351.2C465.6,353.6 464.4,355.8 463.5,358.0C462.6,360.1 462.0,362.2 461.2,364.2C460.5,366.2 459.9,368.1 459.2,370.0Z" stroke="#0a2050" stroke-width="2.2"/>
<path d="M452.7,370.0C452.1,371.7 451.5,373.4 450.9,375.1C450.3,376.8 449.6,378.4 448.9,380.0C448.3,381.6 447.6,383.1 447.0,384.7C446.3,386.2 445.6,387.7 444.8,389.2C444.0,390.6 443.2,392.0 442.4,393.4C441.5,394.8 440.6,396.1 439.6,397.4C438.6,398.7 437.5,399.9 436.5,401.1C435.4,402.3 434.3,403.4 433.3,404.5C432.2,405.6 431.1,406.7 430.0,407.8C429.0,408.9 427.8,409.9 426.8,410.9C425.7,411.9 424.6,412.9 423.5,413.9C422.4,415.0 421.4,416.0 420.3,417.0C419.3,418.0 418.2,419.1 417.1,420.1C416.1,421.1 415.0,422.2 413.9,423.3C412.8,424.3 411.8,425.5 410.6,426.5C409.5,427.6 408.2,428.4 407.0,429.4C405.7,430.3 404.5,431.3 403.2,432.3C401.9,433.3 400.6,434.3 399.2,435.4C397.9,436.4 396.5,437.5 395.1,438.6C393.7,439.7 392.2,440.9 390.7,442.1C389.2,443.4 387.6,444.7 386.0,446.1C384.3,447.5 382.6,449.0 380.8,450.6C379.0,452.3 377.1,454.0 375.0,455.9C372.9,457.8 370.7,460.0 368.3,462.2C365.9,464.3 363.2,467.2 360.6,469.0C357.9,470.8 355.1,472.0 352.3,473.0C349.6,473.9 346.7,474.6 344.0,474.6C341.3,474.7 338.7,474.1 336.2,473.4C333.7,472.8 331.2,471.8 328.8,470.9C326.3,470.0 323.6,469.5 321.4,468.0C319.3,466.5 317.2,464.6 315.9,462.1C314.5,459.7 313.9,456.1 313.1,453.1C312.3,450.1 311.8,447.1 311.2,444.2C310.6,441.4 310.1,438.7 309.6,436.0C309.2,433.4 308.8,430.8 308.5,428.3C308.1,425.9 307.8,423.5 307.5,421.2C307.2,419.0 306.8,416.8 306.4,414.7C306.0,412.6 305.6,410.7 305.1,408.8C304.7,406.8 304.1,405.0 303.7,403.1C303.2,401.2 302.8,399.4 302.4,397.5C302.0,395.7 301.6,393.8 301.3,392.0C300.9,390.2 300.6,388.3 300.3,386.5C300.0,384.7 299.6,382.9 299.3,381.1C299.0,379.2 298.7,377.4 298.3,375.6C298.0,373.7 297.5,371.9 297.3,370.0C297.0,368.1 297.0,366.2 296.8,364.3C296.5,362.4 296.1,360.5 295.8,358.4C295.4,356.4 294.9,354.4 294.7,352.3C294.4,350.2 294.3,348.1 294.4,346.0C294.4,343.9 294.6,341.8 295.0,339.8C295.4,337.7 295.9,335.7 296.7,333.8C297.5,331.9 298.6,330.1 299.7,328.4C300.7,326.6 301.8,324.8 303.1,323.2C304.5,321.7 306.0,320.1 307.8,319.0C309.6,317.8 311.9,317.1 314.0,316.3C316.1,315.5 318.3,314.9 320.5,314.4C322.6,314.0 325.0,313.8 327.1,313.5C329.3,313.2 331.4,313.1 333.3,312.8C335.2,312.4 336.9,312.0 338.4,311.3C340.0,310.6 341.2,309.6 342.5,308.5C343.8,307.4 344.8,305.9 346.0,304.5C347.2,303.0 348.5,301.6 349.7,300.0C351.0,298.4 352.2,296.4 353.5,294.7C354.9,293.0 356.3,291.0 358.0,289.7C359.6,288.3 361.5,287.4 363.3,286.6C365.2,285.9 367.1,285.4 369.1,285.0C371.0,284.5 373.0,284.4 375.0,284.0C377.0,283.6 379.0,283.1 381.1,282.6C383.1,282.2 385.2,281.6 387.3,281.2C389.4,280.9 391.6,280.7 393.8,280.6C395.9,280.5 398.1,280.6 400.3,280.6C402.5,280.5 404.8,280.4 407.1,280.3C409.5,280.3 411.8,280.3 414.2,280.3C416.6,280.4 419.0,280.6 421.5,280.8C424.0,281.0 426.5,281.3 429.0,281.7C431.5,282.1 434.0,282.6 436.5,283.3C438.9,284.0 441.3,284.9 443.7,286.0C446.0,287.0 448.3,288.1 450.5,289.5C452.7,290.8 454.9,292.2 456.8,293.9C458.7,295.6 460.4,297.6 461.8,299.7C463.2,301.8 464.4,304.2 465.2,306.6C466.1,309.1 466.7,311.7 467.0,314.4C467.3,317.1 467.2,319.9 467.1,322.6C466.9,325.4 466.6,328.1 466.1,330.8C465.7,333.4 465.1,336.0 464.4,338.6C463.6,341.1 462.5,343.7 461.6,346.0C460.6,348.4 459.7,350.7 458.8,352.8C458.0,355.0 457.1,357.0 456.3,359.0C455.6,361.0 455.0,362.8 454.4,364.7C453.8,366.5 453.3,368.3 452.7,370.0Z" stroke="#0a2050" stroke-width="2.2"/>
<path d="M447.7,370.0C447.2,371.6 446.7,373.2 446.2,374.8C445.7,376.3 445.1,377.9 444.6,379.4C444.0,380.9 443.5,382.3 442.9,383.8C442.4,385.3 441.8,386.7 441.2,388.1C440.5,389.5 439.8,390.9 439.1,392.2C438.3,393.6 437.5,394.9 436.6,396.1C435.8,397.3 434.7,398.5 433.7,399.6C432.7,400.8 431.7,401.8 430.7,402.9C429.7,404.0 428.7,405.0 427.6,406.1C426.6,407.1 425.5,408.0 424.5,409.0C423.5,410.0 422.4,410.9 421.4,411.9C420.4,412.9 419.4,413.9 418.4,414.8C417.4,415.8 416.4,416.8 415.3,417.8C414.3,418.8 413.3,419.8 412.3,420.8C411.3,421.9 410.3,423.0 409.2,424.0C408.1,425.0 406.8,425.7 405.6,426.6C404.4,427.5 403.2,428.4 402.0,429.3C400.7,430.3 399.5,431.2 398.2,432.2C396.9,433.1 395.6,434.1 394.2,435.1C392.9,436.2 391.5,437.2 390.1,438.4C388.6,439.5 387.1,440.7 385.6,442.0C384.0,443.3 382.4,444.7 380.7,446.2C378.9,447.7 377.1,449.2 375.2,451.0C373.2,452.7 371.1,454.7 368.9,456.7C366.6,458.7 364.1,461.2 361.6,462.9C359.1,464.5 356.5,465.7 353.9,466.6C351.3,467.5 348.6,468.1 346.1,468.2C343.6,468.3 341.1,467.7 338.7,467.2C336.3,466.7 334.0,465.8 331.6,465.0C329.3,464.3 326.7,463.8 324.6,462.5C322.5,461.3 320.4,459.6 319.0,457.5C317.6,455.3 316.8,452.1 315.9,449.4C315.1,446.8 314.4,444.0 313.7,441.4C313.1,438.8 312.5,436.2 312.0,433.7C311.5,431.2 311.2,428.7 310.9,426.3C310.5,424.0 310.2,421.7 309.9,419.5C309.5,417.3 309.2,415.2 308.8,413.2C308.5,411.2 308.0,409.3 307.6,407.4C307.2,405.5 306.7,403.8 306.3,401.9C305.8,400.1 305.4,398.3 305.1,396.5C304.7,394.7 304.4,393.0 304.1,391.2C303.8,389.4 303.5,387.7 303.2,385.9C302.9,384.1 302.6,382.4 302.3,380.6C302.1,378.9 301.8,377.1 301.5,375.3C301.2,373.6 300.8,371.8 300.7,370.0C300.5,368.2 300.6,366.4 300.5,364.6C300.4,362.8 300.2,360.9 300.1,359.0C299.9,357.2 299.6,355.2 299.5,353.3C299.5,351.4 299.6,349.5 299.8,347.6C300.1,345.7 300.4,343.8 301.0,342.0C301.5,340.2 302.3,338.4 303.2,336.7C304.1,335.0 305.4,333.5 306.5,332.0C307.7,330.5 308.8,329.0 310.1,327.6C311.5,326.2 312.9,324.9 314.5,323.9C316.2,322.9 318.3,322.2 320.3,321.5C322.2,320.9 324.2,320.3 326.1,319.9C328.1,319.5 330.2,319.3 332.1,319.1C334.1,318.8 336.0,318.8 337.7,318.4C339.4,318.1 341.0,317.8 342.4,317.2C343.8,316.6 345.0,315.8 346.1,314.8C347.3,313.8 348.3,312.6 349.4,311.4C350.5,310.2 351.7,309.0 352.8,307.6C353.9,306.2 355.0,304.6 356.3,303.1C357.5,301.7 358.8,300.0 360.3,298.9C361.7,297.7 363.4,297.0 365.0,296.3C366.6,295.6 368.4,295.3 370.1,294.9C371.8,294.5 373.6,294.3 375.3,294.0C377.1,293.7 378.9,293.2 380.7,292.8C382.5,292.4 384.4,291.9 386.2,291.6C388.1,291.3 390.0,291.1 391.9,291.0C393.8,290.9 395.7,291.0 397.7,290.9C399.7,290.9 401.7,290.7 403.8,290.7C405.8,290.6 408.0,290.5 410.1,290.6C412.2,290.6 414.4,290.7 416.6,290.9C418.8,291.0 421.1,291.2 423.3,291.5C425.6,291.8 427.9,292.1 430.1,292.7C432.4,293.2 434.6,294.0 436.8,294.8C438.9,295.6 441.1,296.5 443.2,297.6C445.3,298.6 447.4,299.8 449.3,301.2C451.1,302.6 452.8,304.3 454.2,306.1C455.5,307.9 456.6,310.1 457.5,312.2C458.3,314.4 458.9,316.9 459.2,319.3C459.5,321.7 459.5,324.3 459.4,326.7C459.3,329.2 459.0,331.7 458.7,334.1C458.3,336.5 457.9,338.8 457.3,341.1C456.7,343.4 455.8,345.8 455.0,347.9C454.3,350.1 453.5,352.1 452.8,354.1C452.1,356.1 451.3,358.0 450.7,359.8C450.1,361.6 449.6,363.3 449.1,365.0C448.6,366.7 448.2,368.4 447.7,370.0Z" stroke="#0a2830" stroke-width="2.2"/>
<path d="M443.4,370.0C443.0,371.5 442.6,373.0 442.1,374.5C441.7,376.0 441.3,377.4 440.8,378.8C440.4,380.3 440.0,381.7 439.5,383.1C439.1,384.5 438.6,385.9 438.1,387.2C437.5,388.6 437.0,389.9 436.3,391.2C435.6,392.5 434.9,393.8 434.1,395.0C433.3,396.2 432.3,397.3 431.4,398.4C430.4,399.5 429.4,400.5 428.4,401.5C427.5,402.5 426.5,403.5 425.5,404.5C424.5,405.5 423.5,406.4 422.5,407.3C421.5,408.2 420.5,409.1 419.5,410.0C418.5,411.0 417.5,411.9 416.5,412.8C415.6,413.7 414.6,414.7 413.6,415.6C412.7,416.6 411.7,417.5 410.7,418.5C409.7,419.5 408.8,420.6 407.7,421.5C406.6,422.4 405.4,423.1 404.3,423.9C403.1,424.7 402.0,425.5 400.8,426.4C399.6,427.2 398.4,428.1 397.2,429.0C395.9,429.9 394.7,430.7 393.4,431.7C392.1,432.6 390.8,433.6 389.4,434.7C388.0,435.7 386.6,436.8 385.1,438.0C383.7,439.1 382.1,440.4 380.5,441.8C378.9,443.1 377.2,444.5 375.3,446.1C373.5,447.7 371.6,449.5 369.5,451.3C367.4,453.0 365.0,455.3 362.7,456.8C360.4,458.3 357.9,459.4 355.5,460.2C353.1,461.0 350.6,461.6 348.2,461.7C345.8,461.8 343.5,461.4 341.3,460.9C339.0,460.5 336.8,459.8 334.5,459.1C332.3,458.5 329.8,458.2 327.7,457.1C325.7,456.0 323.7,454.7 322.2,452.8C320.7,450.9 319.8,448.2 318.8,445.8C317.8,443.4 317.0,441.0 316.3,438.6C315.6,436.2 314.9,433.7 314.4,431.4C313.9,429.0 313.6,426.6 313.2,424.4C312.9,422.1 312.6,419.9 312.3,417.8C311.9,415.7 311.6,413.6 311.3,411.7C310.9,409.8 310.5,407.9 310.1,406.1C309.7,404.3 309.3,402.5 308.9,400.8C308.5,399.0 308.1,397.3 307.8,395.6C307.5,393.8 307.2,392.1 306.9,390.4C306.6,388.7 306.4,387.0 306.1,385.3C305.9,383.6 305.6,381.9 305.4,380.2C305.2,378.5 304.9,376.8 304.7,375.1C304.5,373.4 304.1,371.7 304.1,370.0C304.0,368.3 304.2,366.6 304.2,364.8C304.2,363.1 304.2,361.4 304.1,359.6C304.1,357.9 304.0,356.1 304.1,354.3C304.2,352.5 304.4,350.7 304.8,349.0C305.2,347.3 305.7,345.6 306.4,343.9C307.0,342.3 307.9,340.7 308.9,339.2C309.9,337.8 311.3,336.5 312.5,335.2C313.7,333.9 314.8,332.5 316.2,331.4C317.5,330.2 318.8,329.0 320.3,328.1C321.9,327.2 323.8,326.6 325.6,326.0C327.4,325.5 329.2,325.0 331.0,324.6C332.8,324.3 334.7,324.1 336.5,323.9C338.2,323.6 340.0,323.6 341.5,323.3C343.1,323.0 344.5,322.8 345.8,322.2C347.1,321.7 348.2,321.0 349.3,320.2C350.3,319.4 351.3,318.3 352.3,317.3C353.3,316.3 354.4,315.3 355.4,314.1C356.5,313.0 357.5,311.6 358.6,310.3C359.7,309.1 360.9,307.7 362.2,306.7C363.5,305.8 365.0,305.1 366.5,304.6C367.9,304.0 369.5,303.7 371.0,303.4C372.5,303.0 374.1,302.9 375.6,302.6C377.2,302.3 378.8,301.9 380.4,301.6C382.0,301.2 383.6,300.8 385.3,300.5C387.0,300.2 388.7,300.0 390.4,299.9C392.1,299.8 393.7,299.9 395.5,299.8C397.3,299.7 399.1,299.6 400.9,299.5C402.7,299.4 404.6,299.3 406.5,299.3C408.5,299.3 410.4,299.4 412.4,299.5C414.4,299.6 416.4,299.7 418.5,299.9C420.5,300.1 422.6,300.3 424.7,300.8C426.8,301.2 428.8,301.7 430.9,302.3C432.9,303.0 435.0,303.7 437.0,304.5C439.0,305.4 441.0,306.2 442.8,307.4C444.6,308.6 446.3,310.0 447.6,311.6C448.9,313.2 450.0,315.1 450.9,317.1C451.7,319.0 452.2,321.2 452.5,323.4C452.8,325.6 452.8,328.0 452.8,330.2C452.7,332.5 452.5,334.7 452.3,336.9C452.0,339.1 451.7,341.2 451.3,343.3C450.8,345.4 450.0,347.5 449.4,349.5C448.8,351.5 448.2,353.4 447.6,355.2C447.0,357.0 446.4,358.8 445.9,360.5C445.4,362.1 445.0,363.8 444.6,365.3C444.2,366.9 443.8,368.5 443.4,370.0Z" stroke="#0a2830" stroke-width="1.7"/>
<path d="M439.6,370.0C439.3,371.4 438.9,372.8 438.5,374.2C438.2,375.6 437.8,377.0 437.5,378.4C437.1,379.7 436.8,381.1 436.5,382.4C436.1,383.8 435.7,385.1 435.3,386.4C434.8,387.7 434.4,389.1 433.8,390.3C433.2,391.6 432.6,392.8 431.9,394.0C431.1,395.1 430.2,396.2 429.3,397.3C428.4,398.3 427.4,399.3 426.4,400.3C425.5,401.2 424.5,402.2 423.6,403.1C422.6,404.0 421.6,404.9 420.6,405.7C419.6,406.6 418.6,407.4 417.7,408.3C416.7,409.2 415.7,410.0 414.8,410.9C413.8,411.7 412.9,412.6 412.0,413.5C411.0,414.4 410.1,415.2 409.1,416.2C408.2,417.1 407.3,418.1 406.3,418.9C405.2,419.8 404.1,420.4 402.9,421.1C401.8,421.9 400.7,422.6 399.6,423.4C398.4,424.2 397.3,425.0 396.1,425.8C394.9,426.6 393.8,427.4 392.5,428.2C391.3,429.1 390.0,430.0 388.7,430.9C387.4,431.9 386.1,432.8 384.7,433.9C383.3,435.0 381.9,436.1 380.4,437.3C378.8,438.5 377.2,439.8 375.5,441.2C373.8,442.6 372.0,444.2 370.0,445.8C368.1,447.4 365.9,449.4 363.8,450.8C361.6,452.1 359.3,453.1 357.1,453.8C354.9,454.6 352.5,455.1 350.3,455.2C348.1,455.4 345.9,455.0 343.8,454.7C341.6,454.3 339.6,453.7 337.4,453.2C335.2,452.7 332.9,452.5 330.9,451.7C328.8,450.8 326.9,449.7 325.3,448.1C323.8,446.5 322.7,444.2 321.6,442.1C320.5,440.1 319.6,437.9 318.8,435.7C318.0,433.5 317.4,431.3 316.8,429.1C316.3,426.8 316.0,424.5 315.6,422.4C315.2,420.2 315.0,418.1 314.6,416.0C314.3,414.0 314.0,412.1 313.7,410.2C313.3,408.3 313.0,406.5 312.6,404.8C312.2,403.0 311.8,401.3 311.5,399.6C311.1,397.9 310.8,396.2 310.5,394.6C310.2,392.9 309.9,391.2 309.7,389.6C309.4,387.9 309.2,386.3 309.0,384.7C308.8,383.0 308.6,381.4 308.4,379.8C308.2,378.2 308.1,376.5 307.9,374.9C307.8,373.3 307.5,371.6 307.5,370.0C307.4,368.4 307.7,366.7 307.9,365.1C308.0,363.5 308.0,361.8 308.1,360.2C308.2,358.5 308.2,356.8 308.4,355.2C308.6,353.6 309.0,351.9 309.5,350.4C310.0,348.8 310.6,347.2 311.3,345.7C312.1,344.3 313.0,342.8 314.1,341.6C315.2,340.3 316.6,339.1 317.8,338.0C319.0,336.9 320.2,335.7 321.5,334.7C322.8,333.7 324.0,332.6 325.5,331.9C327.0,331.1 328.7,330.6 330.4,330.0C332.0,329.5 333.7,329.1 335.3,328.8C337.0,328.5 338.7,328.3 340.3,328.1C341.9,327.9 343.5,327.9 344.9,327.6C346.3,327.4 347.6,327.2 348.8,326.7C350.0,326.3 351.0,325.7 352.0,325.0C353.0,324.3 353.9,323.4 354.9,322.6C355.8,321.7 356.8,320.9 357.8,319.9C358.7,319.0 359.7,317.8 360.7,316.8C361.7,315.7 362.8,314.6 364.0,313.8C365.2,312.9 366.5,312.4 367.8,311.9C369.1,311.4 370.4,311.2 371.8,310.9C373.1,310.6 374.5,310.5 375.9,310.2C377.3,310.0 378.7,309.6 380.1,309.3C381.5,309.0 383.0,308.6 384.5,308.4C385.9,308.1 387.4,308.0 389.0,307.9C390.5,307.7 392.0,307.8 393.5,307.7C395.1,307.6 396.7,307.5 398.3,307.4C400.0,307.3 401.7,307.2 403.4,307.1C405.1,307.1 406.9,307.1 408.7,307.1C410.5,307.2 412.3,307.2 414.2,307.3C416.1,307.5 418.0,307.6 419.9,307.9C421.8,308.2 423.7,308.6 425.6,309.1C427.5,309.5 429.5,310.0 431.4,310.7C433.3,311.3 435.3,312.0 437.1,313.0C438.8,313.9 440.5,315.1 441.8,316.5C443.1,317.9 444.2,319.6 445.0,321.3C445.8,323.1 446.3,325.1 446.6,327.1C446.9,329.2 446.9,331.3 446.9,333.4C446.9,335.4 446.8,337.5 446.6,339.4C446.4,341.4 446.2,343.4 445.9,345.3C445.5,347.2 444.9,349.1 444.4,350.9C444.0,352.8 443.5,354.5 443.0,356.2C442.5,357.9 442.0,359.5 441.6,361.1C441.2,362.6 440.9,364.1 440.6,365.6C440.2,367.1 439.9,368.6 439.6,370.0Z" stroke="#0a2830" stroke-width="1.7"/>
<path d="M436.3,370.0C436.0,371.4 435.7,372.7 435.4,374.0C435.1,375.3 434.8,376.6 434.6,378.0C434.3,379.3 434.1,380.6 433.8,381.9C433.5,383.2 433.2,384.5 432.9,385.7C432.5,387.0 432.1,388.3 431.6,389.5C431.1,390.7 430.6,392.0 429.9,393.1C429.2,394.2 428.3,395.3 427.5,396.3C426.6,397.3 425.6,398.2 424.7,399.2C423.7,400.1 422.8,401.0 421.8,401.8C420.9,402.7 419.9,403.5 418.9,404.3C417.9,405.1 416.9,405.9 416.0,406.7C415.0,407.4 414.1,408.2 413.1,409.0C412.2,409.8 411.3,410.6 410.4,411.4C409.4,412.2 408.5,413.0 407.6,413.9C406.7,414.7 405.8,415.6 404.8,416.4C403.8,417.2 402.7,417.7 401.6,418.4C400.5,419.1 399.5,419.7 398.4,420.4C397.3,421.1 396.2,421.8 395.1,422.6C394.0,423.3 392.8,424.0 391.7,424.8C390.5,425.6 389.3,426.3 388.1,427.2C386.9,428.0 385.6,428.9 384.3,429.8C383.0,430.8 381.6,431.8 380.2,432.9C378.8,433.9 377.3,435.0 375.7,436.3C374.1,437.5 372.4,438.9 370.6,440.3C368.8,441.8 366.8,443.5 364.8,444.7C362.8,445.9 360.8,446.8 358.7,447.5C356.6,448.1 354.5,448.6 352.4,448.8C350.3,448.9 348.3,448.6 346.3,448.4C344.3,448.2 342.3,447.7 340.3,447.4C338.2,447.0 336.0,446.9 334.0,446.2C332.0,445.5 330.1,444.7 328.5,443.4C326.9,442.1 325.7,440.3 324.5,438.5C323.3,436.7 322.2,434.9 321.4,432.9C320.5,430.9 319.8,428.8 319.3,426.7C318.7,424.6 318.3,422.5 318.0,420.4C317.6,418.3 317.3,416.3 317.0,414.3C316.7,412.4 316.4,410.5 316.1,408.7C315.8,406.9 315.4,405.2 315.1,403.4C314.8,401.7 314.4,400.1 314.1,398.5C313.7,396.8 313.5,395.2 313.2,393.6C312.9,392.0 312.7,390.4 312.5,388.8C312.3,387.2 312.1,385.6 311.9,384.0C311.8,382.5 311.6,380.9 311.5,379.4C311.3,377.8 311.2,376.2 311.1,374.7C311.0,373.1 310.8,371.6 310.8,370.0C310.9,368.4 311.2,366.9 311.4,365.3C311.6,363.8 311.7,362.3 311.9,360.7C312.1,359.2 312.2,357.6 312.5,356.1C312.9,354.6 313.3,353.1 313.9,351.6C314.4,350.2 315.1,348.7 315.9,347.4C316.7,346.1 317.7,344.8 318.8,343.6C319.9,342.5 321.3,341.5 322.5,340.5C323.7,339.5 324.9,338.5 326.2,337.6C327.4,336.7 328.6,335.8 330.0,335.1C331.4,334.5 333.0,334.0 334.6,333.5C336.1,333.1 337.6,332.7 339.1,332.5C340.6,332.2 342.2,332.0 343.7,331.9C345.1,331.7 346.5,331.6 347.8,331.4C349.1,331.2 350.3,331.0 351.4,330.6C352.5,330.3 353.5,329.8 354.4,329.2C355.4,328.6 356.2,327.9 357.1,327.2C358.0,326.5 358.9,325.8 359.8,325.0C360.7,324.2 361.6,323.2 362.5,322.4C363.5,321.5 364.4,320.6 365.5,319.9C366.6,319.2 367.7,318.8 368.9,318.4C370.1,318.0 371.3,317.7 372.5,317.5C373.7,317.2 374.9,317.1 376.1,316.9C377.4,316.7 378.6,316.4 379.9,316.1C381.1,315.9 382.4,315.5 383.7,315.3C385.1,315.1 386.4,314.9 387.7,314.8C389.1,314.7 390.4,314.7 391.8,314.6C393.2,314.5 394.6,314.4 396.1,314.3C397.6,314.1 399.1,314.0 400.6,314.0C402.2,313.9 403.8,313.9 405.4,313.8C407.0,313.8 408.7,313.8 410.4,313.9C412.1,313.9 413.9,314.0 415.6,314.2C417.4,314.4 419.2,314.6 421.0,314.9C422.8,315.3 424.7,315.6 426.5,316.1C428.4,316.6 430.3,317.0 432.0,317.8C433.7,318.6 435.4,319.5 436.7,320.8C438.0,322.0 439.0,323.5 439.8,325.1C440.6,326.7 441.1,328.6 441.4,330.4C441.7,332.2 441.7,334.2 441.8,336.1C441.8,338.0 441.8,339.8 441.7,341.7C441.6,343.5 441.4,345.3 441.2,347.0C440.9,348.8 440.4,350.5 440.1,352.2C439.7,353.9 439.3,355.5 439.0,357.0C438.6,358.6 438.2,360.1 437.9,361.6C437.5,363.1 437.3,364.5 437.0,365.9C436.8,367.3 436.5,368.6 436.3,370.0Z" stroke="#0a2830" stroke-width="1.7"/>
<path d="M433.1,370.0C432.9,371.3 432.7,372.5 432.5,373.8C432.3,375.1 432.1,376.3 431.9,377.6C431.7,378.8 431.5,380.1 431.3,381.3C431.1,382.6 430.9,383.8 430.6,385.1C430.3,386.3 430.0,387.6 429.6,388.8C429.2,390.0 428.7,391.2 428.1,392.3C427.4,393.4 426.6,394.4 425.8,395.4C424.9,396.4 424.0,397.3 423.0,398.1C422.1,399.0 421.2,399.9 420.2,400.6C419.2,401.4 418.2,402.2 417.2,402.9C416.3,403.7 415.3,404.4 414.3,405.1C413.4,405.8 412.4,406.5 411.5,407.2C410.6,407.9 409.7,408.6 408.8,409.4C407.9,410.1 407.0,410.8 406.0,411.6C405.1,412.3 404.3,413.2 403.3,413.9C402.4,414.5 401.3,415.0 400.3,415.6C399.2,416.2 398.2,416.9 397.2,417.5C396.1,418.1 395.1,418.7 394.0,419.4C393.0,420.0 391.9,420.7 390.8,421.4C389.7,422.0 388.6,422.7 387.4,423.5C386.3,424.2 385.1,425.0 383.9,425.8C382.6,426.6 381.4,427.5 380.0,428.4C378.7,429.3 377.3,430.3 375.9,431.4C374.4,432.5 372.8,433.7 371.2,434.9C369.5,436.1 367.7,437.6 365.9,438.7C364.1,439.7 362.2,440.5 360.3,441.1C358.4,441.7 356.4,442.1 354.5,442.3C352.6,442.5 350.7,442.3 348.9,442.1C347.0,442.0 345.1,441.7 343.1,441.5C341.2,441.2 339.1,441.2 337.1,440.8C335.2,440.3 333.3,439.7 331.6,438.7C330.0,437.7 328.6,436.3 327.3,434.9C326.0,433.4 324.9,431.8 323.9,430.1C323.0,428.3 322.3,426.3 321.7,424.4C321.1,422.5 320.7,420.4 320.3,418.4C319.9,416.4 319.7,414.5 319.4,412.6C319.1,410.7 318.8,408.9 318.5,407.2C318.2,405.4 317.9,403.8 317.6,402.1C317.3,400.5 316.9,398.9 316.7,397.3C316.4,395.7 316.1,394.2 315.9,392.6C315.7,391.0 315.5,389.5 315.3,388.0C315.1,386.5 315.0,384.9 314.8,383.4C314.7,381.9 314.6,380.4 314.5,378.9C314.4,377.4 314.3,375.9 314.3,374.5C314.3,373.0 314.1,371.5 314.2,370.0C314.3,368.5 314.7,367.1 315.0,365.6C315.2,364.1 315.4,362.7 315.7,361.2C315.9,359.8 316.2,358.3 316.6,356.9C317.0,355.5 317.5,354.1 318.1,352.8C318.7,351.5 319.4,350.2 320.3,349.0C321.1,347.8 322.1,346.6 323.2,345.6C324.3,344.6 325.7,343.7 326.9,342.8C328.1,342.0 329.3,341.1 330.5,340.3C331.7,339.5 332.9,338.8 334.2,338.2C335.5,337.6 337.0,337.2 338.4,336.8C339.8,336.4 341.2,336.1 342.6,335.8C344.0,335.6 345.4,335.5 346.8,335.3C348.1,335.2 349.4,335.1 350.6,334.9C351.8,334.7 352.9,334.6 353.9,334.3C354.9,334.0 355.8,333.6 356.7,333.1C357.6,332.6 358.4,332.0 359.2,331.5C360.0,330.9 360.9,330.3 361.7,329.7C362.6,329.0 363.4,328.3 364.2,327.6C365.1,326.9 366.0,326.1 366.9,325.6C367.9,325.0 368.9,324.7 369.9,324.3C371.0,324.0 372.1,323.8 373.1,323.6C374.2,323.4 375.3,323.3 376.4,323.1C377.5,322.9 378.5,322.7 379.7,322.4C380.8,322.2 381.9,321.9 383.1,321.7C384.2,321.5 385.4,321.4 386.6,321.3C387.8,321.1 389.0,321.1 390.2,321.0C391.5,320.9 392.7,320.8 394.0,320.6C395.3,320.5 396.7,320.4 398.1,320.3C399.5,320.2 400.9,320.1 402.4,320.1C403.8,320.0 405.3,319.9 406.9,319.9C408.5,319.9 410.1,319.9 411.7,320.0C413.4,320.1 415.0,320.2 416.7,320.4C418.5,320.6 420.3,320.8 422.0,321.1C423.8,321.4 425.7,321.7 427.4,322.3C429.0,322.9 430.7,323.7 432.0,324.7C433.2,325.8 434.3,327.1 435.0,328.6C435.8,330.0 436.2,331.7 436.6,333.4C436.9,335.1 436.9,336.9 437.0,338.6C437.1,340.3 437.1,342.1 437.0,343.7C437.0,345.4 437.0,347.0 436.8,348.6C436.6,350.2 436.3,351.8 436.0,353.4C435.8,354.9 435.5,356.4 435.2,357.8C434.9,359.3 434.6,360.7 434.4,362.1C434.1,363.5 434.0,364.8 433.8,366.1C433.5,367.4 433.4,368.7 433.1,370.0Z" stroke="#0a2830" stroke-width="1.7"/>
<path d="M430.5,370.0C430.4,371.2 430.2,372.4 430.0,373.6C429.9,374.8 429.7,376.0 429.6,377.2C429.4,378.5 429.4,379.7 429.2,380.9C429.1,382.1 428.9,383.3 428.7,384.5C428.5,385.8 428.3,387.0 427.9,388.2C427.5,389.3 427.1,390.5 426.5,391.6C425.9,392.7 425.1,393.7 424.3,394.6C423.5,395.6 422.6,396.4 421.6,397.3C420.7,398.1 419.7,398.9 418.7,399.6C417.8,400.3 416.7,401.0 415.7,401.7C414.8,402.3 413.8,403.0 412.8,403.6C411.8,404.3 410.9,404.9 410.0,405.5C409.0,406.1 408.1,406.8 407.2,407.4C406.3,408.0 405.4,408.7 404.5,409.3C403.6,410.0 402.8,410.7 401.9,411.3C400.9,411.9 399.9,412.4 398.9,412.9C397.9,413.4 397.0,414.0 396.0,414.5C395.0,415.1 394.0,415.6 393.0,416.2C392.0,416.7 391.0,417.3 389.9,417.9C388.9,418.5 387.9,419.1 386.8,419.7C385.7,420.4 384.6,421.0 383.4,421.7C382.3,422.4 381.1,423.2 379.9,424.0C378.6,424.8 377.4,425.6 376.0,426.5C374.7,427.4 373.3,428.4 371.8,429.4C370.2,430.5 368.6,431.7 367.0,432.6C365.3,433.5 363.6,434.2 361.9,434.7C360.1,435.2 358.4,435.6 356.6,435.8C354.9,436.0 353.1,435.9 351.4,435.9C349.6,435.8 347.9,435.7 346.0,435.6C344.2,435.5 342.2,435.6 340.3,435.3C338.4,435.1 336.5,434.7 334.8,434.0C333.1,433.4 331.6,432.4 330.2,431.2C328.8,430.1 327.5,428.8 326.5,427.2C325.5,425.7 324.7,423.9 324.1,422.1C323.4,420.3 323.1,418.3 322.7,416.4C322.3,414.5 322.1,412.6 321.8,410.9C321.5,409.1 321.2,407.3 320.9,405.7C320.7,404.0 320.4,402.4 320.1,400.8C319.8,399.2 319.5,397.7 319.3,396.2C319.0,394.6 318.8,393.1 318.6,391.6C318.4,390.1 318.2,388.6 318.1,387.2C318.0,385.7 317.8,384.3 317.7,382.8C317.7,381.4 317.6,379.9 317.5,378.5C317.5,377.1 317.5,375.6 317.5,374.2C317.5,372.8 317.5,371.4 317.6,370.0C317.8,368.6 318.2,367.2 318.5,365.8C318.8,364.5 319.0,363.1 319.3,361.8C319.6,360.4 319.9,359.1 320.4,357.8C320.8,356.4 321.4,355.2 322.0,353.9C322.6,352.7 323.4,351.5 324.2,350.4C325.1,349.3 326.1,348.3 327.1,347.4C328.2,346.4 329.5,345.6 330.7,344.8C331.9,344.1 333.0,343.3 334.2,342.6C335.4,341.9 336.5,341.3 337.7,340.7C339.0,340.2 340.4,339.9 341.7,339.5C343.0,339.2 344.3,338.9 345.6,338.7C346.9,338.5 348.2,338.4 349.4,338.2C350.6,338.1 351.8,338.0 352.9,337.9C354.0,337.7 355.0,337.6 356.0,337.3C356.9,337.1 357.8,336.8 358.6,336.4C359.4,336.0 360.2,335.6 361.0,335.1C361.8,334.6 362.5,334.2 363.3,333.7C364.1,333.2 364.9,332.5 365.7,332.0C366.5,331.5 367.3,330.8 368.1,330.4C369.0,330.0 369.9,329.7 370.8,329.4C371.8,329.1 372.7,328.9 373.7,328.8C374.6,328.6 375.6,328.5 376.5,328.3C377.5,328.2 378.5,328.0 379.5,327.8C380.5,327.6 381.5,327.3 382.5,327.2C383.5,327.0 384.6,326.8 385.6,326.7C386.7,326.6 387.8,326.5 388.9,326.4C390.0,326.3 391.1,326.2 392.3,326.0C393.5,325.9 394.7,325.8 395.9,325.7C397.2,325.5 398.4,325.4 399.8,325.3C401.1,325.2 402.5,325.1 403.9,325.1C405.4,325.0 406.9,324.9 408.4,324.9C409.9,324.9 411.5,325.0 413.1,325.0C414.8,325.1 416.5,325.2 418.2,325.4C419.9,325.5 421.8,325.7 423.4,326.1C425.0,326.6 426.7,327.2 428.0,328.1C429.2,329.0 430.2,330.2 431.0,331.5C431.7,332.8 432.2,334.4 432.5,336.0C432.8,337.5 432.9,339.2 433.0,340.8C433.1,342.4 433.1,343.9 433.1,345.5C433.2,347.0 433.2,348.5 433.1,349.9C433.0,351.4 432.8,352.9 432.6,354.3C432.4,355.8 432.2,357.2 432.0,358.5C431.8,359.9 431.6,361.2 431.4,362.5C431.3,363.8 431.1,365.0 431.0,366.3C430.8,367.5 430.7,368.8 430.5,370.0Z" stroke="#0a2830" stroke-width="1.7"/>
<path d="M428.1,370.0C428.0,371.2 427.9,372.3 427.8,373.5C427.7,374.6 427.6,375.8 427.5,377.0C427.4,378.1 427.4,379.3 427.3,380.5C427.2,381.7 427.2,382.9 427.0,384.0C426.8,385.2 426.7,386.4 426.3,387.6C426.0,388.8 425.7,389.9 425.1,391.0C424.5,392.0 423.8,393.0 423.0,393.9C422.2,394.9 421.3,395.7 420.3,396.4C419.4,397.2 418.4,397.9 417.4,398.6C416.4,399.3 415.3,399.9 414.3,400.5C413.3,401.1 412.3,401.6 411.3,402.2C410.4,402.8 409.4,403.3 408.5,403.9C407.5,404.4 406.6,404.9 405.7,405.5C404.8,406.0 403.9,406.6 403.0,407.1C402.1,407.7 401.3,408.3 400.4,408.8C399.5,409.3 398.5,409.7 397.6,410.2C396.6,410.6 395.7,411.1 394.8,411.6C393.9,412.0 392.9,412.5 392.0,413.0C391.0,413.5 390.1,414.0 389.1,414.5C388.1,415.0 387.1,415.5 386.1,416.0C385.1,416.5 384.1,417.1 383.0,417.7C381.9,418.2 380.9,418.9 379.7,419.5C378.6,420.2 377.4,420.8 376.2,421.6C375.0,422.3 373.7,423.2 372.3,424.0C371.0,424.8 369.5,425.8 368.0,426.6C366.5,427.3 365.0,427.8 363.5,428.3C361.9,428.8 360.3,429.2 358.7,429.4C357.1,429.6 355.5,429.6 353.9,429.6C352.3,429.7 350.6,429.6 348.9,429.7C347.2,429.7 345.3,429.9 343.4,429.9C341.6,429.8 339.7,429.7 338.0,429.4C336.2,429.0 334.5,428.4 333.0,427.6C331.5,426.7 330.1,425.7 329.0,424.4C327.9,423.1 327.1,421.4 326.5,419.7C325.8,418.1 325.5,416.2 325.1,414.4C324.7,412.7 324.4,410.8 324.1,409.1C323.9,407.4 323.6,405.8 323.4,404.1C323.1,402.5 322.8,401.0 322.6,399.5C322.3,397.9 322.1,396.5 321.9,395.0C321.6,393.5 321.5,392.1 321.3,390.6C321.1,389.2 321.0,387.8 320.9,386.4C320.8,385.0 320.7,383.6 320.7,382.2C320.6,380.8 320.6,379.4 320.6,378.1C320.6,376.7 320.6,375.4 320.7,374.0C320.8,372.7 320.8,371.3 321.0,370.0C321.2,368.7 321.6,367.4 321.9,366.1C322.3,364.8 322.6,363.5 322.9,362.3C323.3,361.0 323.6,359.7 324.1,358.5C324.6,357.3 325.1,356.1 325.8,355.0C326.4,353.9 327.2,352.8 328.0,351.8C328.8,350.8 329.8,349.8 330.8,349.0C331.8,348.1 333.0,347.4 334.1,346.7C335.3,346.0 336.4,345.3 337.5,344.7C338.7,344.1 339.8,343.5 341.0,343.1C342.2,342.6 343.5,342.3 344.7,342.0C345.9,341.8 347.1,341.5 348.3,341.3C349.5,341.1 350.7,341.0 351.8,340.9C352.9,340.8 354.0,340.7 355.0,340.6C356.0,340.5 357.0,340.3 357.9,340.1C358.7,339.9 359.5,339.7 360.3,339.4C361.1,339.1 361.8,338.7 362.6,338.4C363.3,338.0 364.1,337.7 364.8,337.3C365.5,336.9 366.2,336.4 367.0,336.0C367.7,335.6 368.4,335.1 369.2,334.8C370.0,334.4 370.8,334.2 371.6,334.0C372.5,333.8 373.3,333.6 374.2,333.5C375.0,333.3 375.9,333.3 376.7,333.1C377.6,333.0 378.4,332.8 379.3,332.6C380.2,332.5 381.1,332.3 382.0,332.1C382.9,331.9 383.8,331.8 384.8,331.7C385.7,331.6 386.6,331.5 387.6,331.4C388.6,331.2 389.6,331.1 390.7,331.0C391.7,330.8 392.8,330.7 393.9,330.5C395.1,330.4 396.2,330.3 397.4,330.1C398.7,330.0 399.9,329.8 401.2,329.7C402.6,329.6 403.9,329.5 405.4,329.4C406.8,329.3 408.3,329.3 409.9,329.2C411.4,329.2 413.1,329.1 414.7,329.2C416.4,329.3 418.2,329.3 419.8,329.6C421.4,329.9 423.1,330.4 424.3,331.1C425.6,331.9 426.6,333.0 427.3,334.2C428.1,335.4 428.4,336.9 428.8,338.3C429.1,339.7 429.2,341.3 429.3,342.7C429.4,344.2 429.5,345.6 429.6,347.0C429.7,348.4 429.8,349.8 429.7,351.2C429.7,352.5 429.6,353.9 429.5,355.2C429.4,356.6 429.3,357.9 429.2,359.1C429.0,360.4 428.9,361.6 428.8,362.9C428.7,364.1 428.6,365.3 428.5,366.5C428.4,367.7 428.3,368.8 428.1,370.0Z" stroke="#0a2830" stroke-width="1.7"/>
<path d="M426.0,370.0C425.9,371.1 425.8,372.2 425.7,373.3C425.7,374.5 425.7,375.6 425.6,376.7C425.6,377.8 425.6,379.0 425.6,380.1C425.6,381.3 425.5,382.4 425.4,383.6C425.3,384.8 425.2,386.0 424.9,387.1C424.7,388.2 424.4,389.4 423.8,390.4C423.3,391.4 422.6,392.4 421.9,393.3C421.1,394.2 420.1,395.0 419.1,395.7C418.2,396.4 417.1,397.1 416.1,397.7C415.1,398.3 414.0,398.8 413.0,399.4C412.0,399.9 410.9,400.4 409.9,400.8C409.0,401.3 408.0,401.8 407.0,402.2C406.1,402.7 405.1,403.1 404.2,403.6C403.3,404.0 402.4,404.5 401.5,404.9C400.7,405.4 399.8,405.8 398.9,406.3C398.1,406.7 397.1,407.0 396.2,407.4C395.4,407.8 394.5,408.2 393.6,408.6C392.7,409.0 391.8,409.4 390.9,409.8C390.0,410.2 389.1,410.6 388.2,411.0C387.3,411.4 386.4,411.8 385.5,412.3C384.5,412.7 383.6,413.1 382.6,413.6C381.6,414.1 380.6,414.6 379.6,415.1C378.5,415.6 377.5,416.1 376.4,416.7C375.3,417.3 374.1,417.9 372.9,418.5C371.7,419.2 370.4,419.9 369.1,420.5C367.8,421.1 366.4,421.5 365.1,421.9C363.7,422.3 362.2,422.7 360.8,422.9C359.4,423.1 357.9,423.2 356.4,423.4C354.9,423.5 353.4,423.6 351.8,423.8C350.1,423.9 348.4,424.3 346.6,424.4C344.8,424.6 342.9,424.8 341.1,424.7C339.3,424.6 337.5,424.4 335.9,423.9C334.3,423.4 332.7,422.7 331.6,421.6C330.4,420.5 329.6,418.9 328.9,417.4C328.2,415.9 327.8,414.1 327.4,412.4C327.0,410.8 326.8,409.0 326.5,407.4C326.3,405.8 326.0,404.2 325.8,402.6C325.5,401.1 325.3,399.6 325.1,398.1C324.8,396.7 324.6,395.3 324.5,393.8C324.3,392.4 324.1,391.0 324.0,389.7C323.9,388.3 323.8,386.9 323.7,385.6C323.6,384.2 323.6,382.9 323.6,381.6C323.6,380.2 323.6,378.9 323.6,377.6C323.7,376.3 323.8,375.1 323.9,373.8C324.0,372.5 324.2,371.2 324.4,370.0C324.7,368.8 325.0,367.5 325.4,366.3C325.7,365.1 326.0,363.9 326.4,362.8C326.8,361.6 327.2,360.4 327.7,359.3C328.2,358.2 328.8,357.1 329.4,356.1C330.0,355.0 330.7,354.0 331.5,353.1C332.3,352.2 333.2,351.3 334.2,350.5C335.2,349.7 336.3,349.0 337.3,348.4C338.4,347.7 339.4,347.1 340.5,346.6C341.6,346.1 342.7,345.6 343.9,345.2C345.0,344.8 346.2,344.5 347.4,344.3C348.5,344.0 349.6,343.8 350.7,343.7C351.8,343.5 352.9,343.4 354.0,343.3C355.0,343.2 356.0,343.1 356.9,343.0C357.9,342.9 358.7,342.8 359.6,342.7C360.4,342.5 361.1,342.3 361.9,342.1C362.6,341.9 363.3,341.6 364.0,341.4C364.7,341.1 365.4,340.8 366.1,340.6C366.8,340.3 367.4,339.9 368.1,339.6C368.8,339.3 369.5,339.0 370.2,338.7C370.9,338.5 371.6,338.3 372.4,338.1C373.1,338.0 373.9,337.8 374.6,337.7C375.4,337.6 376.1,337.5 376.9,337.4C377.6,337.3 378.4,337.1 379.2,337.0C379.9,336.8 380.7,336.7 381.5,336.5C382.3,336.4 383.1,336.3 384.0,336.2C384.8,336.0 385.6,335.9 386.5,335.8C387.4,335.7 388.3,335.5 389.2,335.4C390.2,335.2 391.2,335.1 392.2,334.9C393.2,334.8 394.2,334.6 395.3,334.4C396.5,334.3 397.6,334.1 398.8,333.9C400.0,333.8 401.3,333.6 402.7,333.4C404.0,333.3 405.4,333.1 406.9,333.0C408.4,332.9 410.0,332.7 411.6,332.7C413.2,332.6 415.0,332.5 416.6,332.7C418.2,332.9 419.8,333.2 421.0,333.9C422.3,334.5 423.3,335.5 424.0,336.6C424.7,337.7 425.1,339.0 425.4,340.4C425.8,341.7 425.8,343.1 426.0,344.5C426.2,345.8 426.3,347.2 426.4,348.5C426.5,349.8 426.7,351.0 426.7,352.3C426.8,353.5 426.7,354.8 426.7,356.0C426.7,357.3 426.6,358.5 426.6,359.7C426.5,360.9 426.4,362.0 426.4,363.2C426.3,364.4 426.3,365.5 426.2,366.6C426.1,367.8 426.1,368.9 426.0,370.0Z" stroke="#0a2830" stroke-width="1.7"/>
<path d="M424.1,370.0C424.0,371.1 424.0,372.1 423.9,373.2C423.9,374.3 423.9,375.4 424.0,376.5C424.0,377.6 424.0,378.7 424.1,379.8C424.1,380.9 424.1,382.1 424.1,383.2C424.0,384.3 423.9,385.5 423.7,386.6C423.5,387.8 423.2,388.9 422.7,389.9C422.2,390.9 421.6,391.9 420.8,392.8C420.0,393.6 419.0,394.4 418.1,395.0C417.1,395.7 416.0,396.3 415.0,396.9C413.9,397.4 412.8,397.9 411.8,398.3C410.7,398.8 409.7,399.2 408.7,399.6C407.6,400.0 406.6,400.4 405.7,400.7C404.7,401.1 403.8,401.5 402.9,401.8C401.9,402.2 401.0,402.5 400.2,402.9C399.3,403.2 398.4,403.6 397.6,403.9C396.7,404.2 395.8,404.5 395.0,404.8C394.1,405.2 393.3,405.5 392.5,405.8C391.6,406.1 390.8,406.5 390.0,406.8C389.1,407.1 388.3,407.4 387.4,407.8C386.6,408.1 385.7,408.4 384.8,408.8C384.0,409.1 383.1,409.4 382.2,409.8C381.3,410.2 380.4,410.5 379.4,410.9C378.5,411.3 377.5,411.7 376.5,412.1C375.5,412.5 374.5,413.0 373.4,413.4C372.4,413.9 371.2,414.4 370.1,414.8C368.9,415.2 367.8,415.6 366.5,415.9C365.3,416.3 364.1,416.6 362.8,416.8C361.5,417.1 360.2,417.3 358.8,417.5C357.4,417.7 356.0,417.9 354.5,418.2C352.9,418.5 351.3,419.0 349.5,419.3C347.8,419.7 345.9,420.1 344.1,420.3C342.2,420.5 340.2,420.7 338.5,420.5C336.9,420.3 335.2,419.8 334.0,418.9C332.7,418.0 331.9,416.6 331.2,415.2C330.4,413.8 330.0,412.1 329.6,410.6C329.2,409.0 329.0,407.3 328.8,405.8C328.5,404.2 328.3,402.7 328.0,401.2C327.8,399.7 327.6,398.3 327.4,396.9C327.2,395.5 327.0,394.1 326.9,392.8C326.7,391.4 326.6,390.1 326.5,388.7C326.4,387.4 326.4,386.1 326.3,384.8C326.3,383.5 326.3,382.3 326.3,381.0C326.3,379.7 326.4,378.5 326.5,377.2C326.6,376.0 326.7,374.8 326.9,373.6C327.1,372.4 327.3,371.2 327.6,370.0C327.9,368.8 328.2,367.7 328.6,366.5C328.9,365.4 329.3,364.3 329.7,363.2C330.1,362.1 330.5,361.1 331.0,360.0C331.5,359.0 332.1,358.0 332.7,357.0C333.4,356.1 334.0,355.1 334.8,354.3C335.5,353.4 336.4,352.6 337.3,351.9C338.2,351.1 339.1,350.5 340.1,349.9C341.1,349.3 342.1,348.7 343.2,348.2C344.2,347.8 345.3,347.4 346.4,347.1C347.5,346.7 348.7,346.5 349.7,346.3C350.8,346.1 351.9,345.9 352.9,345.8C353.9,345.6 354.9,345.5 355.9,345.4C356.8,345.3 357.7,345.3 358.6,345.2C359.5,345.1 360.3,345.0 361.1,344.9C361.8,344.8 362.6,344.7 363.3,344.5C364.0,344.4 364.7,344.2 365.3,344.0C366.0,343.8 366.6,343.7 367.3,343.5C367.9,343.3 368.5,343.0 369.2,342.8C369.8,342.6 370.4,342.4 371.1,342.2C371.7,342.0 372.4,341.9 373.0,341.8C373.7,341.7 374.3,341.6 375.0,341.5C375.7,341.4 376.3,341.3 377.0,341.2C377.7,341.1 378.3,341.0 379.0,340.9C379.7,340.8 380.4,340.6 381.1,340.5C381.8,340.4 382.5,340.2 383.3,340.1C384.0,340.0 384.8,339.9 385.5,339.8C386.3,339.6 387.1,339.5 388.0,339.3C388.8,339.2 389.7,339.0 390.6,338.8C391.5,338.6 392.5,338.5 393.5,338.3C394.5,338.1 395.5,337.9 396.7,337.7C397.8,337.5 399.0,337.2 400.2,337.0C401.5,336.8 402.8,336.6 404.3,336.4C405.7,336.2 407.2,335.9 408.8,335.8C410.4,335.6 412.2,335.4 413.7,335.5C415.3,335.6 416.9,335.8 418.1,336.3C419.4,336.9 420.3,337.7 421.1,338.7C421.8,339.7 422.1,341.0 422.5,342.2C422.8,343.4 422.9,344.8 423.1,346.0C423.2,347.3 423.4,348.5 423.6,349.7C423.7,350.9 423.9,352.1 424.0,353.2C424.1,354.4 424.2,355.6 424.2,356.8C424.2,357.9 424.3,359.0 424.3,360.2C424.3,361.3 424.2,362.4 424.2,363.5C424.2,364.6 424.2,365.7 424.2,366.8C424.2,367.9 424.1,368.9 424.1,370.0Z" stroke="#0a2830" stroke-width="1.7"/>
<path d="M422.4,370.0C422.4,371.0 422.4,372.1 422.4,373.1C422.4,374.1 422.4,375.2 422.5,376.3C422.6,377.3 422.7,378.4 422.7,379.5C422.8,380.6 422.9,381.7 422.8,382.9C422.8,384.0 422.8,385.1 422.6,386.2C422.4,387.3 422.2,388.5 421.7,389.5C421.3,390.5 420.7,391.4 419.9,392.3C419.1,393.1 418.1,393.8 417.2,394.5C416.2,395.1 415.1,395.7 414.0,396.2C413.0,396.7 411.9,397.1 410.8,397.5C409.7,397.9 408.7,398.3 407.6,398.6C406.6,399.0 405.6,399.3 404.6,399.6C403.7,399.9 402.7,400.2 401.8,400.5C400.9,400.8 400.0,401.0 399.1,401.3C398.3,401.6 397.4,401.9 396.6,402.1C395.7,402.4 394.9,402.7 394.1,403.0C393.3,403.2 392.5,403.5 391.6,403.8C390.8,404.0 390.0,404.3 389.2,404.6C388.4,404.9 387.6,405.1 386.8,405.4C386.0,405.7 385.2,405.9 384.4,406.2C383.6,406.5 382.7,406.7 381.9,407.0C381.0,407.3 380.2,407.6 379.3,407.8C378.4,408.1 377.6,408.4 376.6,408.7C375.7,409.0 374.8,409.3 373.8,409.7C372.9,410.0 371.9,410.3 370.8,410.7C369.8,411.0 368.7,411.3 367.6,411.6C366.5,411.8 365.4,412.1 364.2,412.4C363.0,412.7 361.8,412.9 360.6,413.2C359.3,413.5 357.9,413.8 356.5,414.2C355.0,414.6 353.4,415.1 351.7,415.6C350.0,416.0 348.1,416.7 346.2,417.1C344.4,417.5 342.3,418.0 340.5,418.0C338.7,418.0 337.0,417.7 335.7,417.0C334.4,416.2 333.5,414.9 332.8,413.6C332.1,412.3 331.7,410.7 331.3,409.2C330.9,407.7 330.7,406.1 330.4,404.6C330.1,403.1 329.9,401.6 329.7,400.2C329.5,398.7 329.3,397.4 329.1,396.0C328.9,394.6 328.8,393.3 328.7,392.0C328.6,390.6 328.5,389.3 328.4,388.1C328.3,386.8 328.3,385.5 328.3,384.3C328.2,383.0 328.3,381.8 328.3,380.6C328.4,379.3 328.4,378.1 328.5,377.0C328.7,375.8 328.9,374.6 329.1,373.4C329.3,372.3 329.6,371.1 329.9,370.0C330.2,368.9 330.6,367.8 331.0,366.7C331.4,365.6 331.7,364.6 332.2,363.6C332.6,362.5 333.1,361.5 333.6,360.6C334.1,359.6 334.7,358.7 335.3,357.8C336.0,356.9 336.7,356.0 337.4,355.2C338.1,354.4 339.0,353.7 339.8,353.0C340.7,352.3 341.6,351.7 342.5,351.1C343.5,350.6 344.5,350.1 345.5,349.7C346.6,349.3 347.6,349.0 348.7,348.7C349.7,348.4 350.8,348.2 351.8,348.0C352.9,347.9 353.8,347.7 354.8,347.6C355.8,347.5 356.7,347.4 357.6,347.3C358.4,347.2 359.3,347.1 360.1,347.1C360.9,347.0 361.7,346.9 362.4,346.9C363.1,346.8 363.8,346.7 364.5,346.6C365.2,346.5 365.8,346.4 366.4,346.3C367.1,346.2 367.7,346.1 368.3,346.0C368.9,345.9 369.5,345.8 370.1,345.6C370.7,345.5 371.3,345.4 371.8,345.3C372.4,345.2 373.0,345.1 373.6,345.0C374.2,344.9 374.8,344.9 375.3,344.8C375.9,344.7 376.5,344.6 377.1,344.6C377.7,344.5 378.3,344.4 378.9,344.3C379.5,344.2 380.1,344.1 380.7,344.0C381.4,343.8 382.0,343.7 382.7,343.6C383.3,343.5 384.0,343.3 384.7,343.2C385.4,343.1 386.1,342.9 386.9,342.8C387.6,342.6 388.4,342.4 389.2,342.2C390.1,342.0 390.9,341.8 391.8,341.6C392.8,341.4 393.7,341.2 394.8,340.9C395.8,340.7 396.9,340.4 398.1,340.2C399.3,339.9 400.6,339.6 402.0,339.3C403.4,339.0 404.9,338.7 406.4,338.5C407.9,338.2 409.7,337.9 411.2,337.9C412.7,337.9 414.4,338.0 415.6,338.5C416.8,338.9 417.8,339.7 418.5,340.6C419.2,341.5 419.5,342.7 419.9,343.8C420.2,345.0 420.3,346.2 420.5,347.4C420.7,348.6 420.9,349.7 421.1,350.8C421.3,351.9 421.5,353.0 421.7,354.1C421.8,355.2 421.9,356.3 422.0,357.4C422.1,358.5 422.2,359.5 422.2,360.6C422.3,361.7 422.3,362.7 422.4,363.8C422.4,364.8 422.4,365.9 422.4,366.9C422.4,367.9 422.4,369.0 422.4,370.0Z" stroke="#0a2830" stroke-width="1.7"/>
</g>
<g stroke="#0a1228" stroke-width="3.2" stroke-linecap="round">
<line x1="336.1" y1="129.8" x2="366.5" y2="572.6"/>
<line x1="359.9" y1="127.5" x2="391.7" y2="570.7"/>
<line x1="384.1" y1="126.6" x2="415" y2="568.2"/>
</g>
<g font-size="13.5" fill="#0c1f58" stroke="#0c1f58" stroke-width="0.35">
<text transform="translate(368.4,586) rotate(90)" x="0" y="4">25 %</text>
<text transform="translate(393.2,586) rotate(90)" x="0" y="4">50 %</text>
<text transform="translate(416.9,584.5) rotate(90)" x="0" y="4">75 %</text>
</g>
<path d="M324.7,305.3 L421.1,284.7 L425.5,389.8 L333.4,413.6 Z" fill="#e42020" stroke="#120808" stroke-width="2.2" stroke-linejoin="round"/>
<g stroke="#1a0404" stroke-width="2.9">
<line x1="334.3" y1="303.2" x2="342.6" y2="411.2"/>
<line x1="344.0" y1="301.2" x2="351.8" y2="408.8"/>
<line x1="353.6" y1="299.1" x2="361.0" y2="406.5"/>
<line x1="363.3" y1="297.1" x2="370.2" y2="404.1"/>
<line x1="372.9" y1="295.0" x2="379.4" y2="401.7"/>
<line x1="382.5" y1="292.9" x2="388.7" y2="399.3"/>
<line x1="392.2" y1="290.9" x2="397.9" y2="396.9"/>
<line x1="401.8" y1="288.8" x2="407.1" y2="394.6"/>
<line x1="411.5" y1="286.8" x2="416.3" y2="392.2"/>
</g>
<rect x="46" y="41" width="580" height="594" fill="none" stroke="#1a2a3a" stroke-width="2"/>
<rect x="46" y="620.5" width="580" height="14" fill="#fdfefe"/>
<line x1="45" y1="635" x2="627" y2="635" stroke="#3a3a30" stroke-width="2.6"/>
<line x1="46" y1="40" x2="46" y2="636" stroke="#0e2030" stroke-width="2"/>
<line x1="626" y1="40" x2="626" y2="636" stroke="#0e2030" stroke-width="2"/>
<line x1="45" y1="41" x2="627" y2="41" stroke="#0e2436" stroke-width="2.2"/>
<g stroke="#102030" stroke-width="2">
<line x1="46" y1="66.3" x2="54" y2="66.3"/>
<line x1="46" y1="251.3" x2="54" y2="251.3"/>
<line x1="46" y1="436" x2="54" y2="436"/>
<line x1="46" y1="620.5" x2="54" y2="620.5"/>
<line x1="155.5" y1="628" x2="155.5" y2="635"/>
<line x1="340" y1="628" x2="340" y2="635"/>
<line x1="524.5" y1="628" x2="524.5" y2="635"/>
</g>
<g font-size="13.5" fill="#555">
<text transform="translate(33,66.3) rotate(-90)" text-anchor="middle" x="0" y="0">15.0</text>
<text transform="translate(33,251.3) rotate(-90)" text-anchor="middle" x="0" y="0">10.0</text>
<text transform="translate(33,436) rotate(-90)" text-anchor="middle" x="0" y="0">5.0</text>
<text transform="translate(33,620.5) rotate(-90)" text-anchor="middle" x="0" y="0">0.0</text>
<text x="155.5" y="659" text-anchor="middle">-75.0</text>
<text x="340" y="659" text-anchor="middle">-70.0</text>
<text x="524.5" y="659" text-anchor="middle">-65.0</text>
</g>
<text x="46.8" y="25" font-size="19" font-weight="bold" fill="#111" stroke="#111" stroke-width="0.4">TMI</text>
<rect x="636.5" y="42" width="25" height="592.5" fill="url(#cb)"/>
<g stroke="#333" stroke-width="1.6">
<line x1="661.5" y1="65.7" x2="670" y2="65.7"/>
<line x1="661.5" y1="127.5" x2="670" y2="127.5"/>
<line x1="661.5" y1="189.3" x2="670" y2="189.3"/>
<line x1="661.5" y1="251.1" x2="670" y2="251.1"/>
<line x1="661.5" y1="312.9" x2="670" y2="312.9"/>
<line x1="661.5" y1="374.7" x2="670" y2="374.7"/>
<line x1="661.5" y1="436.5" x2="670" y2="436.5"/>
<line x1="661.5" y1="498.3" x2="670" y2="498.3"/>
<line x1="661.5" y1="560.1" x2="670" y2="560.1"/>
<line x1="661.5" y1="621.9" x2="670" y2="621.9"/>
</g>
<g font-size="13.2" fill="#444">
<text x="669" y="70.2">57500</text>
<text x="669" y="132">57250</text>
<text x="669" y="193.8">57000</text>
<text x="669" y="255.6">56750</text>
<text x="669" y="317.4">56500</text>
<text x="669" y="379.2">56250</text>
<text x="669" y="441">56000</text>
<text x="669" y="502.8">55750</text>
<text x="669" y="564.6">55500</text>
<text x="669" y="626.4">55250</text>
</g>
<rect x="727" y="0" width="668" height="662" fill="#fff"/>
<g>
<line x1="727.5" y1="5" x2="727.5" y2="662" stroke="#222" stroke-width="2"/>
<line x1="727" y1="226.8" x2="1395" y2="226.8" stroke="#333" stroke-width="2"/>
<line x1="727" y1="449.5" x2="1395" y2="449.5" stroke="#333" stroke-width="2"/>
<rect x="958" y="113" width="145" height="84" fill="#fa0000" stroke="#6a0000" stroke-width="1.5"/>
<path d="M945.0,96.3C947.5,96.3 929.2,95.8 960.0,96.3C990.8,96.8 1068.3,98.6 1130.0,99.5C1191.7,100.4 1296.7,101.2 1330.0,101.5" fill="none" stroke="#a8a8a8" stroke-width="1.6"/>
<line x1="742" y1="104" x2="1330" y2="104" stroke="#222" stroke-width="2"/>
<line x1="970" y1="103.4" x2="1130" y2="103.4" stroke="#e59090" stroke-width="2.2"/>
<path d="M742.0,92.8C764.2,92.8 847.8,92.9 875.0,92.7C902.2,92.5 895.8,92.4 905.0,91.8C914.2,91.2 922.5,90.5 930.0,89.0C937.5,87.5 943.3,85.8 950.0,83.0C956.7,80.2 964.2,75.8 970.0,72.0C975.8,68.2 979.7,64.2 985.0,60.0C990.3,55.8 995.8,50.7 1001.6,47.0C1007.4,43.3 1014.5,40.1 1020.0,38.0C1025.5,35.9 1028.3,35.7 1034.5,34.6C1040.7,33.5 1049.5,31.7 1056.9,31.6C1064.3,31.5 1071.5,32.3 1079.0,33.9C1086.5,35.5 1093.1,37.4 1101.6,41.3C1110.1,45.1 1120.3,52.3 1130.0,57.0C1139.7,61.7 1149.8,65.6 1159.8,69.7C1169.8,73.8 1182.2,79.0 1189.7,81.6C1197.2,84.2 1197.1,83.8 1204.6,85.4C1212.1,87.0 1224.5,89.4 1234.5,91.3C1244.5,93.2 1254.3,95.3 1264.3,96.6C1274.2,97.8 1283.2,98.3 1294.2,98.8C1305.2,99.3 1324.0,99.4 1330.0,99.5" fill="none" stroke="#f6b0b0" stroke-width="5" stroke-opacity="0.6"/>
<path d="M754.2,89.8v10.5M750.5,94.0h7.5M766.2,89.8v10.5M762.5,94.0h7.5M778.2,89.8v10.5M774.5,94.0h7.5M790.2,89.8v10.5M786.5,94.0h7.5M802.2,89.8v10.5M798.5,94.0h7.5M814.2,89.8v10.5M810.5,94.0h7.5M826.2,89.8v10.5M822.5,94.0h7.5M838.2,89.8v10.5M834.5,94.0h7.5M850.2,89.8v10.5M846.5,94.0h7.5M862.2,89.8v10.5M858.5,94.0h7.5M874.2,89.8v10.5M870.5,94.0h7.5M886.2,89.8v10.5M882.5,94.0h7.5M898.2,89.7v10.5M894.5,93.9h7.5M910.2,84.9v10.5M906.5,89.1h7.5M922.2,81.8v10.5M918.5,86.0h7.5M934.2,77.9v10.5M930.5,82.1h7.5M946.2,73.8v10.5M942.5,78.0h7.5M958.2,66.6v10.5M954.5,70.8h7.5M970.2,58.8v10.5M966.5,63.0h7.5M982.2,49.0v10.5M978.5,53.2h7.5M994.2,40.0v10.5M990.5,44.2h7.5M1006.2,29.5v10.5M1002.5,33.7h7.5M1018.2,22.1v10.5M1014.5,26.3h7.5M1030.2,19.2v10.5M1026.5,23.4h7.5M1042.2,18.4v10.5M1038.5,22.6h7.5M1054.2,18.4v10.5M1050.5,22.6h7.5M1066.2,19.3v10.5M1062.5,23.5h7.5M1078.2,22.4v10.5M1074.5,26.6h7.5M1090.2,28.0v10.5M1086.5,32.2h7.5M1102.2,36.2v10.5M1098.5,40.4h7.5M1114.2,44.5v10.5M1110.5,48.7h7.5M1126.2,50.5v10.5M1122.5,54.7h7.5M1138.2,61.3v10.5M1134.5,65.5h7.5M1150.2,70.1v10.5M1146.5,74.3h7.5M1162.2,78.2v10.5M1158.5,82.4h7.5M1174.2,86.4v10.5M1170.5,90.6h7.5M1186.2,90.9v10.5M1182.5,95.1h7.5M1198.2,93.8v10.5M1194.5,98.0h7.5M1210.2,95.3v10.5M1206.5,99.5h7.5M1222.2,95.3v10.5M1218.5,99.5h7.5M1234.2,95.3v10.5M1230.5,99.5h7.5M1246.2,95.3v10.5M1242.5,99.5h7.5M1258.2,94.9v10.5M1254.5,99.1h7.5M1270.2,94.5v10.5M1266.5,98.7h7.5M1282.2,93.7v10.5M1278.5,97.9h7.5M1294.2,93.0v10.5M1290.5,97.2h7.5M1306.2,92.3v10.5M1302.5,96.5h7.5M1318.2,91.6v10.5M1314.5,95.8h7.5M1329.0,92.0v10.5M1325.2,96.2h7.5" stroke="#2a1414" stroke-width="2.2" fill="none"/>
<path d="M742.0,75.5C752.2,75.5 784.7,74.9 803.0,75.5C821.3,76.1 837.7,76.9 852.0,79.0C866.3,81.1 880.3,85.9 889.0,88.0C897.7,90.1 899.0,90.2 904.0,91.5C909.0,92.8 914.7,95.2 919.0,96.0C923.3,96.8 924.9,96.8 930.0,96.6C935.1,96.4 943.2,97.0 949.4,95.0C955.6,93.0 960.6,89.2 967.3,84.6C974.0,80.0 983.5,72.2 989.7,67.5C995.9,62.8 997.1,59.7 1004.6,56.3C1012.1,52.9 1024.5,49.4 1034.5,47.3C1044.5,45.2 1056.8,44.1 1064.3,43.6C1071.8,43.1 1074.3,42.7 1079.3,44.3C1084.3,45.9 1090.0,50.4 1094.2,53.3C1098.4,56.2 1098.6,57.8 1104.6,61.5C1110.6,65.2 1123.3,72.4 1130.0,75.7C1136.7,79.0 1140.0,79.9 1145.0,81.6C1150.0,83.3 1154.8,85.2 1159.8,86.1C1164.8,87.0 1168.6,86.9 1174.8,86.9C1181.0,86.9 1189.8,86.7 1197.2,86.1C1204.7,85.5 1210.8,84.3 1219.5,83.1C1228.2,81.9 1240.7,80.0 1249.4,78.7C1258.1,77.4 1258.4,75.6 1271.8,75.0C1285.2,74.4 1320.3,75.0 1330.0,75.0" fill="none" stroke="#2a2ad0" stroke-width="2"/>
<path d="M742.0,74.9C752.2,74.9 784.7,74.4 803.0,75.0C821.3,75.6 837.7,76.6 852.0,78.7C866.3,80.8 880.3,85.5 889.0,87.6C897.7,89.7 899.0,89.9 904.0,91.3C909.0,92.7 913.0,94.9 919.0,95.8C925.0,96.7 933.2,96.7 940.0,96.6C946.8,96.5 954.2,96.8 960.0,95.0C965.8,93.2 970.0,90.3 975.0,86.1C980.0,81.9 986.3,74.4 990.0,69.7C993.7,65.0 994.0,62.0 997.0,57.8C1000.0,53.6 1004.2,48.8 1008.0,44.3C1011.8,39.8 1015.2,32.0 1019.6,30.9C1024.0,29.8 1029.5,36.1 1034.5,37.6C1039.5,39.1 1044.4,40.4 1049.4,39.9C1054.4,39.4 1059.6,35.1 1064.3,34.6C1069.0,34.1 1073.8,34.8 1077.8,36.9C1081.8,39.0 1084.0,43.3 1088.2,47.3C1092.4,51.3 1098.3,58.1 1103.0,60.7C1107.7,63.3 1112.1,62.0 1116.6,63.0C1121.1,64.0 1125.3,64.6 1130.0,66.7C1134.7,68.8 1140.0,71.7 1145.0,75.7C1150.0,79.7 1155.6,86.2 1159.8,90.6C1164.0,94.9 1165.3,99.8 1170.3,101.8C1175.3,103.8 1184.0,103.0 1189.7,102.5C1195.4,102.0 1199.6,100.8 1204.6,98.8C1209.6,96.8 1213.3,93.5 1219.5,90.6C1225.7,87.7 1234.5,84.1 1242.0,81.6C1249.5,79.1 1258.1,76.8 1264.3,75.7C1270.5,74.6 1268.3,75.1 1279.3,75.0C1290.2,74.9 1321.5,75.0 1330.0,75.0" fill="none" stroke="#161622" stroke-width="2"/>
<path d="M742.0,92.8C764.2,92.8 847.8,92.9 875.0,92.7C902.2,92.5 895.8,92.4 905.0,91.8C914.2,91.2 922.5,90.5 930.0,89.0C937.5,87.5 943.3,85.8 950.0,83.0C956.7,80.2 964.2,75.8 970.0,72.0C975.8,68.2 979.7,64.2 985.0,60.0C990.3,55.8 995.8,50.7 1001.6,47.0C1007.4,43.3 1014.5,40.1 1020.0,38.0C1025.5,35.9 1028.3,35.7 1034.5,34.6C1040.7,33.5 1049.5,31.7 1056.9,31.6C1064.3,31.5 1071.5,32.3 1079.0,33.9C1086.5,35.5 1093.1,37.4 1101.6,41.3C1110.1,45.1 1120.3,52.3 1130.0,57.0C1139.7,61.7 1149.8,65.6 1159.8,69.7C1169.8,73.8 1182.2,79.0 1189.7,81.6C1197.2,84.2 1197.1,83.8 1204.6,85.4C1212.1,87.0 1224.5,89.4 1234.5,91.3C1244.5,93.2 1254.3,95.3 1264.3,96.6C1274.2,97.8 1283.2,98.3 1294.2,98.8C1305.2,99.3 1324.0,99.4 1330.0,99.5" fill="none" stroke="#d42222" stroke-width="2.2" stroke-opacity="0.9"/>
<rect x="742" y="12" width="588" height="185" fill="none" stroke="#222" stroke-width="2"/>
<path d="M1330,20.5h-6M1330,28.7h-6M1330,36.9h-6M1330,45.1h-6M1330,53.3h-6M1330,61.5h-6M1330,69.7h-6M1330,77.9h-6M1330,86.1h-6M1330,94.3h-6M1330,113.3h-6M1330,122.6h-6M1330,131.9h-6M1330,141.2h-6M1330,150.5h-6M1330,159.8h-6M1330,169.1h-6M1330,178.4h-6M1330,187.7h-6M864.5,197v-7M987.0,197v-7M1109.5,197v-7M1232.0,197v-7" stroke="#222" stroke-width="1.8"/>
<text x="759" y="30" font-size="19" font-weight="bold" fill="#1a1a1a">75 % Line</text>
<g font-size="13.5" fill="#555">
<text x="1339.5" y="42.3" font-size="14.5" textLength="34" lengthAdjust="spacingAndGlyphs">57000</text>
<text x="1339.5" y="83.5" font-size="14.5" textLength="34" lengthAdjust="spacingAndGlyphs">56000</text>
<text x="1339" y="109.5">0</text>
<text x="1340" y="155.9">-5</text>
<text x="1339" y="202.2">-10</text>
</g>
<g font-size="13.5" fill="#555">
<text transform="translate(1389,57.8) rotate(-90)" text-anchor="middle">TMI (nT)</text>
<text transform="translate(1372,151.4) rotate(-90)" text-anchor="middle">Depth (m)</text>
</g>
<g font-size="13" fill="#555" text-anchor="middle">
<text x="742.0" y="220.0">0</text>
<text x="864.5" y="220.0">2.5</text>
<text x="987.0" y="220.0">5</text>
<text x="1109.5" y="220.0">7.5</text>
<text x="1232.0" y="220.0">10</text>
</g>
<rect x="963" y="336.5" width="146" height="84.5" fill="#fa0000" stroke="#6a0000" stroke-width="1.5"/>
<path d="M945.0,320.0C947.5,320.0 929.2,319.5 960.0,320.0C990.8,320.5 1068.3,322.2 1130.0,323.0C1191.7,323.8 1296.7,324.7 1330.0,325.0" fill="none" stroke="#a8a8a8" stroke-width="1.6"/>
<line x1="742" y1="328.5" x2="1330" y2="328.5" stroke="#222" stroke-width="2"/>
<line x1="1016" y1="327.9" x2="1117" y2="327.9" stroke="#e59090" stroke-width="2.2"/>
<path d="M742.0,317.4C763.3,317.4 843.3,317.5 870.0,317.2C896.7,316.9 892.0,316.6 902.0,315.8C912.0,315.0 921.7,314.2 930.0,312.2C938.3,310.1 944.5,306.9 952.0,303.5C959.5,300.1 963.5,298.9 974.8,291.7C986.1,284.5 1007.2,266.9 1019.6,260.4C1032.0,253.9 1042.0,254.4 1049.4,252.9C1056.9,251.4 1059.3,251.4 1064.3,251.4C1069.3,251.4 1071.8,250.7 1079.3,252.9C1086.8,255.1 1100.6,260.7 1109.1,264.8C1117.5,268.9 1121.5,272.8 1130.0,277.5C1138.5,282.2 1151.2,288.8 1159.9,293.2C1168.6,297.6 1174.2,300.6 1182.2,303.6C1190.2,306.6 1198.9,308.9 1207.6,311.1C1216.3,313.4 1225.0,315.5 1234.5,317.1C1244.0,318.7 1248.4,319.7 1264.3,320.8C1280.2,321.9 1319.0,323.3 1330.0,323.8" fill="none" stroke="#f6b0b0" stroke-width="5" stroke-opacity="0.6"/>
<path d="M754.2,314.5v10.5M750.5,318.7h7.5M766.2,314.5v10.5M762.5,318.7h7.5M778.2,314.5v10.5M774.5,318.7h7.5M790.2,314.5v10.5M786.5,318.7h7.5M802.2,314.5v10.5M798.5,318.7h7.5M814.2,314.5v10.5M810.5,318.7h7.5M826.2,314.5v10.5M822.5,318.7h7.5M838.2,314.5v10.5M834.5,318.7h7.5M850.2,314.5v10.5M846.5,318.7h7.5M862.2,314.5v10.5M858.5,318.7h7.5M874.2,314.5v10.5M870.5,318.7h7.5M886.2,314.5v10.5M882.5,318.7h7.5M898.2,314.4v10.5M894.5,318.6h7.5M910.2,309.7v10.5M906.5,313.9h7.5M922.2,305.9v10.5M918.5,310.1h7.5M934.2,302.5v10.5M930.5,306.7h7.5M946.2,297.2v10.5M942.5,301.4h7.5M958.2,290.5v10.5M954.5,294.7h7.5M970.2,283.4v10.5M966.5,287.6h7.5M982.2,277.0v10.5M978.5,281.2h7.5M994.2,270.3v10.5M990.5,274.5h7.5M1006.2,261.2v10.5M1002.5,265.4h7.5M1018.2,253.0v10.5M1014.5,257.2h7.5M1030.2,246.3v10.5M1026.5,250.5h7.5M1042.2,241.4v10.5M1038.5,245.6h7.5M1054.2,235.4v10.5M1050.5,239.6h7.5M1066.2,233.1v10.5M1062.5,237.3h7.5M1078.2,235.1v10.5M1074.5,239.3h7.5M1090.2,240.3v10.5M1086.5,244.5h7.5M1102.2,246.3v10.5M1098.5,250.5h7.5M1114.2,254.5v10.5M1110.5,258.7h7.5M1126.2,264.9v10.5M1122.5,269.1h7.5M1138.2,276.0v10.5M1134.5,280.2h7.5M1150.2,285.3v10.5M1146.5,289.5h7.5M1162.2,294.8v10.5M1158.5,299.0h7.5M1174.2,302.5v10.5M1170.5,306.7h7.5M1186.2,308.7v10.5M1182.5,312.9h7.5M1198.2,312.9v10.5M1194.5,317.1h7.5M1210.2,315.1v10.5M1206.5,319.3h7.5M1222.2,315.8v10.5M1218.5,320.0h7.5M1234.2,316.6v10.5M1230.5,320.8h7.5M1246.2,316.3v10.5M1242.5,320.5h7.5M1258.2,316.1v10.5M1254.5,320.3h7.5M1270.2,315.8v10.5M1266.5,320.0h7.5M1282.2,315.5v10.5M1278.5,319.7h7.5M1294.2,315.3v10.5M1290.5,319.5h7.5M1306.2,315.0v10.5M1302.5,319.2h7.5M1318.2,314.8v10.5M1314.5,319.0h7.5M1329.0,314.5v10.5M1325.2,318.7h7.5" stroke="#2a1414" stroke-width="2.2" fill="none"/>
<path d="M742.0,299.5C755.6,299.5 802.3,298.3 823.6,299.5C844.9,300.7 856.6,303.4 870.0,306.5C883.4,309.6 894.0,315.5 904.0,318.0C914.0,320.5 922.9,321.0 930.0,321.6C937.1,322.2 940.2,323.9 946.4,321.6C952.6,319.4 960.1,313.6 967.3,308.1C974.5,302.6 982.2,294.1 989.7,288.7C997.2,283.3 1003.4,279.2 1012.1,276.0C1020.8,272.8 1032.0,271.2 1041.9,269.3C1051.9,267.4 1064.3,265.2 1071.8,264.8C1079.3,264.4 1081.7,265.6 1086.7,267.1C1091.7,268.6 1094.4,269.2 1101.6,273.8C1108.8,278.4 1122.8,289.5 1130.0,295.0C1137.2,300.5 1139.9,303.7 1144.9,306.6C1149.9,309.5 1153.7,311.5 1159.9,312.6C1166.1,313.7 1176.0,313.3 1182.2,313.3C1188.4,313.3 1192.2,313.2 1197.2,312.6C1202.2,312.0 1205.9,310.9 1212.1,309.6C1218.3,308.4 1227.0,306.5 1234.5,305.1C1242.0,303.7 1250.7,302.3 1256.9,301.4C1263.1,300.5 1259.6,300.1 1271.8,299.9C1284.0,299.6 1320.3,299.9 1330.0,299.9" fill="none" stroke="#2a2ad0" stroke-width="2"/>
<path d="M742.0,298.9C755.6,298.9 802.3,297.8 823.6,299.0C844.9,300.2 856.6,302.9 870.0,306.0C883.4,309.1 894.0,315.5 904.0,317.8C914.0,320.1 923.2,320.1 930.0,320.0C936.8,319.9 939.9,319.0 944.9,317.1C949.9,315.2 955.4,310.8 959.9,308.9C964.4,307.0 968.1,306.0 971.8,305.9C975.5,305.8 978.5,309.0 982.2,308.1C985.9,307.2 990.0,304.7 994.2,300.7C998.4,296.7 1003.4,287.1 1007.6,284.2C1011.8,281.3 1015.1,284.7 1019.6,283.5C1024.1,282.3 1030.3,279.4 1034.5,276.8C1038.7,274.2 1041.2,272.5 1044.9,267.8C1048.6,263.1 1053.4,253.6 1056.9,248.4C1060.4,243.2 1062.6,236.8 1065.8,236.5C1069.0,236.2 1072.3,242.6 1076.3,246.9C1080.3,251.2 1085.5,260.0 1089.7,262.6C1093.9,265.2 1097.4,260.5 1101.6,262.6C1105.8,264.7 1110.4,270.3 1115.1,275.3C1119.8,280.3 1125.0,287.5 1130.0,292.5C1135.0,297.5 1138.7,301.0 1144.9,305.1C1151.1,309.2 1161.1,313.9 1167.3,317.1C1173.5,320.3 1176.5,323.1 1182.2,324.5C1187.9,325.9 1196.4,326.2 1201.6,325.3C1206.8,324.4 1208.1,321.7 1213.6,319.3C1219.1,316.9 1227.3,313.8 1234.5,311.1C1241.7,308.4 1249.4,304.8 1256.9,302.9C1264.4,301.0 1267.1,300.4 1279.3,299.9C1291.5,299.4 1321.5,299.9 1330.0,299.9" fill="none" stroke="#161622" stroke-width="2"/>
<path d="M742.0,317.4C763.3,317.4 843.3,317.5 870.0,317.2C896.7,316.9 892.0,316.6 902.0,315.8C912.0,315.0 921.7,314.2 930.0,312.2C938.3,310.1 944.5,306.9 952.0,303.5C959.5,300.1 963.5,298.9 974.8,291.7C986.1,284.5 1007.2,266.9 1019.6,260.4C1032.0,253.9 1042.0,254.4 1049.4,252.9C1056.9,251.4 1059.3,251.4 1064.3,251.4C1069.3,251.4 1071.8,250.7 1079.3,252.9C1086.8,255.1 1100.6,260.7 1109.1,264.8C1117.5,268.9 1121.5,272.8 1130.0,277.5C1138.5,282.2 1151.2,288.8 1159.9,293.2C1168.6,297.6 1174.2,300.6 1182.2,303.6C1190.2,306.6 1198.9,308.9 1207.6,311.1C1216.3,313.4 1225.0,315.5 1234.5,317.1C1244.0,318.7 1248.4,319.7 1264.3,320.8C1280.2,321.9 1319.0,323.3 1330.0,323.8" fill="none" stroke="#d42222" stroke-width="2.2" stroke-opacity="0.9"/>
<rect x="742" y="236" width="588" height="185" fill="none" stroke="#222" stroke-width="2"/>
<path d="M1330,244.5h-6M1330,252.7h-6M1330,260.9h-6M1330,269.1h-6M1330,277.3h-6M1330,285.5h-6M1330,293.7h-6M1330,301.9h-6M1330,310.1h-6M1330,318.3h-6M1330,337.8h-6M1330,347.1h-6M1330,356.4h-6M1330,365.7h-6M1330,375.0h-6M1330,384.3h-6M1330,393.6h-6M1330,402.9h-6M1330,412.2h-6M864.5,421v-7M987.0,421v-7M1109.5,421v-7M1232.0,421v-7" stroke="#222" stroke-width="1.8"/>
<text x="748.5" y="254" font-size="19" font-weight="bold" fill="#1a1a1a">50 % Line</text>
<g font-size="13.5" fill="#555">
<text x="1339.5" y="266.3" font-size="14.5" textLength="34" lengthAdjust="spacingAndGlyphs">57000</text>
<text x="1339.5" y="307.5" font-size="14.5" textLength="34" lengthAdjust="spacingAndGlyphs">56000</text>
<text x="1339" y="333.5">0</text>
<text x="1340" y="379.9">-5</text>
<text x="1339" y="426.2">-10</text>
</g>
<g font-size="13.5" fill="#555">
<text transform="translate(1389,281.8) rotate(-90)" text-anchor="middle">TMI (nT)</text>
<text transform="translate(1372,375.4) rotate(-90)" text-anchor="middle">Depth (m)</text>
</g>
<g font-size="13" fill="#555" text-anchor="middle">
<text x="742.0" y="444.0">0</text>
<text x="864.5" y="444.0">2.5</text>
<text x="987.0" y="444.0">5</text>
<text x="1109.5" y="444.0">7.5</text>
<text x="1232.0" y="444.0">10</text>
</g>
<rect x="968" y="561" width="147" height="84" fill="#fa0000" stroke="#6a0000" stroke-width="1.5"/>
<path d="M945.0,543.5C947.5,543.5 929.2,542.9 960.0,543.5C990.8,544.1 1086.7,546.3 1130.0,547.0C1173.3,547.7 1186.7,547.2 1220.0,547.5C1253.3,547.8 1311.7,548.8 1330.0,549.0" fill="none" stroke="#a8a8a8" stroke-width="1.6"/>
<line x1="742" y1="553.5" x2="1330" y2="553.5" stroke="#222" stroke-width="2"/>
<line x1="1008" y1="552.9" x2="1164" y2="552.9" stroke="#e59090" stroke-width="2.2"/>
<path d="M742.0,541.8C765.0,541.8 852.7,541.8 880.0,541.6C907.3,541.4 897.7,541.0 906.0,540.4C914.3,539.8 921.0,540.0 930.0,538.1C939.0,536.2 949.9,533.6 959.9,529.1C969.9,524.6 979.8,516.8 989.7,511.2C999.7,505.6 1009.6,500.1 1019.6,495.6C1029.5,491.1 1042.0,486.6 1049.4,484.4C1056.9,482.1 1059.3,482.2 1064.3,482.1C1069.3,482.0 1071.8,481.9 1079.3,483.6C1086.8,485.4 1100.6,489.2 1109.1,492.6C1117.5,496.0 1121.5,499.6 1130.0,504.0C1138.5,508.4 1150.0,514.3 1159.9,518.7C1169.9,523.1 1181.0,527.6 1189.7,530.6C1198.4,533.6 1204.6,534.9 1212.1,536.6C1219.6,538.4 1225.8,539.9 1234.5,541.1C1243.2,542.4 1248.4,543.2 1264.3,544.1C1280.2,545.0 1319.0,545.9 1330.0,546.3" fill="none" stroke="#f6b0b0" stroke-width="5" stroke-opacity="0.6"/>
<path d="M754.2,538.8v10.5M750.5,543.0h7.5M766.2,538.8v10.5M762.5,543.0h7.5M778.2,538.8v10.5M774.5,543.0h7.5M790.2,538.8v10.5M786.5,543.0h7.5M802.2,538.8v10.5M798.5,543.0h7.5M814.2,538.8v10.5M810.5,543.0h7.5M826.2,538.8v10.5M822.5,543.0h7.5M838.2,538.8v10.5M834.5,543.0h7.5M850.2,538.8v10.5M846.5,543.0h7.5M862.2,538.8v10.5M858.5,543.0h7.5M874.2,538.8v10.5M870.5,543.0h7.5M886.2,538.8v10.5M882.5,543.0h7.5M898.2,538.8v10.5M894.5,543.0h7.5M910.2,538.8v10.5M906.5,543.0h7.5M922.2,538.6v10.5M918.5,542.8h7.5M934.2,537.4v10.5M930.5,541.6h7.5M946.2,533.6v10.5M942.5,537.8h7.5M958.2,528.4v10.5M954.5,532.6h7.5M970.2,523.4v10.5M966.5,527.6h7.5M982.2,517.4v10.5M978.5,521.6h7.5M994.2,510.7v10.5M990.5,514.9h7.5M1006.2,503.9v10.5M1002.5,508.1h7.5M1018.2,497.9v10.5M1014.5,502.1h7.5M1030.2,489.7v10.5M1026.5,493.9h7.5M1042.2,482.2v10.5M1038.5,486.4h7.5M1054.2,477.0v10.5M1050.5,481.2h7.5M1066.2,474.1v10.5M1062.5,478.3h7.5M1078.2,475.0v10.5M1074.5,479.2h7.5M1090.2,477.2v10.5M1086.5,481.4h7.5M1102.2,480.3v10.5M1098.5,484.5h7.5M1114.2,485.3v10.5M1110.5,489.5h7.5M1126.2,491.3v10.5M1122.5,495.5h7.5M1138.2,498.0v10.5M1134.5,502.2h7.5M1150.2,504.1v10.5M1146.5,508.3h7.5M1162.2,510.8v10.5M1158.5,515.0h7.5M1174.2,516.8v10.5M1170.5,521.0h7.5M1186.2,522.0v10.5M1182.5,526.2h7.5M1198.2,527.2v10.5M1194.5,531.4h7.5M1210.2,531.7v10.5M1206.5,535.9h7.5M1222.2,533.9v10.5M1218.5,538.1h7.5M1234.2,536.1v10.5M1230.5,540.3h7.5M1246.2,536.8v10.5M1242.5,541.0h7.5M1258.2,537.1v10.5M1254.5,541.3h7.5M1270.2,537.5v10.5M1266.5,541.7h7.5M1282.2,537.8v10.5M1278.5,542.0h7.5M1294.2,538.1v10.5M1290.5,542.3h7.5M1306.2,538.5v10.5M1302.5,542.7h7.5M1318.2,538.8v10.5M1314.5,543.0h7.5M1329.0,539.1v10.5M1325.2,543.3h7.5" stroke="#2a1414" stroke-width="2.2" fill="none"/>
<path d="M742.0,523.5C759.1,523.6 822.5,523.0 844.5,524.0C866.5,525.0 864.3,527.3 874.3,529.5C884.2,531.7 894.9,534.6 904.2,537.0C913.5,539.4 920.7,544.4 930.0,544.1C939.3,543.8 949.9,539.3 959.9,535.1C969.9,530.9 979.8,523.7 989.7,518.7C999.7,513.7 1010.4,508.9 1019.6,505.3C1028.8,501.7 1037.5,498.8 1044.9,497.0C1052.4,495.2 1057.3,495.3 1064.3,494.8C1071.3,494.3 1080.5,493.7 1086.7,494.1C1092.9,494.5 1096.6,494.9 1101.6,497.0C1106.6,499.1 1111.9,503.1 1116.6,506.7C1121.3,510.3 1125.8,515.2 1130.0,518.7C1134.2,522.2 1136.4,524.7 1141.9,527.6C1147.4,530.5 1156.1,534.6 1162.8,535.9C1169.5,537.1 1176.5,535.2 1182.2,535.1C1187.9,535.0 1192.2,535.5 1197.2,535.1C1202.2,534.7 1205.9,534.0 1212.1,532.9C1218.3,531.8 1225.8,529.8 1234.5,528.4C1243.2,527.0 1255.6,525.5 1264.3,524.7C1273.0,524.0 1275.8,524.0 1286.7,523.9C1297.7,523.8 1322.8,523.9 1330.0,523.9" fill="none" stroke="#2a2ad0" stroke-width="2"/>
<path d="M742.0,523.2C759.1,523.2 822.5,522.5 844.5,523.5C866.5,524.5 864.3,526.9 874.3,529.1C884.2,531.3 895.5,534.5 904.2,536.6C912.9,538.7 921.5,540.7 926.6,541.8C931.7,542.9 929.5,543.8 935.0,543.0C940.5,542.2 950.8,539.6 959.9,537.3C969.0,535.0 982.2,531.7 989.7,529.1C997.2,526.5 999.6,524.4 1004.6,521.7C1009.6,519.0 1014.6,515.9 1019.6,512.7C1024.6,509.5 1029.5,505.8 1034.5,502.3C1039.5,498.8 1044.4,494.5 1049.4,491.8C1054.4,489.1 1059.3,486.8 1064.3,485.9C1069.3,485.0 1074.3,485.6 1079.3,486.6C1084.3,487.6 1089.2,489.4 1094.2,491.8C1099.2,494.2 1103.1,497.3 1109.1,500.8C1115.1,504.3 1121.5,508.7 1130.0,512.7C1138.5,516.7 1152.4,521.6 1159.9,524.7C1167.4,527.8 1168.6,529.0 1174.8,531.4C1181.0,533.8 1191.0,537.6 1197.2,538.8C1203.4,540.0 1207.1,539.2 1212.1,538.8C1217.1,538.4 1220.8,538.0 1227.0,536.6C1233.2,535.2 1240.7,532.6 1249.4,530.6C1258.1,528.6 1271.8,525.8 1279.3,524.7C1286.8,523.6 1285.8,524.0 1294.2,523.9C1302.7,523.8 1324.0,523.9 1330.0,523.9" fill="none" stroke="#161622" stroke-width="2"/>
<path d="M742.0,541.8C765.0,541.8 852.7,541.8 880.0,541.6C907.3,541.4 897.7,541.0 906.0,540.4C914.3,539.8 921.0,540.0 930.0,538.1C939.0,536.2 949.9,533.6 959.9,529.1C969.9,524.6 979.8,516.8 989.7,511.2C999.7,505.6 1009.6,500.1 1019.6,495.6C1029.5,491.1 1042.0,486.6 1049.4,484.4C1056.9,482.1 1059.3,482.2 1064.3,482.1C1069.3,482.0 1071.8,481.9 1079.3,483.6C1086.8,485.4 1100.6,489.2 1109.1,492.6C1117.5,496.0 1121.5,499.6 1130.0,504.0C1138.5,508.4 1150.0,514.3 1159.9,518.7C1169.9,523.1 1181.0,527.6 1189.7,530.6C1198.4,533.6 1204.6,534.9 1212.1,536.6C1219.6,538.4 1225.8,539.9 1234.5,541.1C1243.2,542.4 1248.4,543.2 1264.3,544.1C1280.2,545.0 1319.0,545.9 1330.0,546.3" fill="none" stroke="#d42222" stroke-width="2.2" stroke-opacity="0.9"/>
<rect x="742" y="461" width="588" height="184" fill="none" stroke="#222" stroke-width="2"/>
<path d="M1330,469.5h-6M1330,477.7h-6M1330,485.9h-6M1330,494.1h-6M1330,502.3h-6M1330,510.5h-6M1330,518.7h-6M1330,526.9h-6M1330,535.1h-6M1330,543.3h-6M1330,562.8h-6M1330,572.1h-6M1330,581.4h-6M1330,590.7h-6M1330,600.0h-6M1330,609.3h-6M1330,618.6h-6M1330,627.9h-6M1330,637.2h-6M864.5,645v-7M987.0,645v-7M1109.5,645v-7M1232.0,645v-7" stroke="#222" stroke-width="1.8"/>
<text x="748.5" y="479" font-size="19" font-weight="bold" fill="#1a1a1a">25 % Line</text>
<g font-size="13.5" fill="#555">
<text x="1339.5" y="491.3" font-size="14.5" textLength="34" lengthAdjust="spacingAndGlyphs">57000</text>
<text x="1339.5" y="532.5" font-size="14.5" textLength="34" lengthAdjust="spacingAndGlyphs">56000</text>
<text x="1339" y="558.5">0</text>
<text x="1340" y="604.9">-5</text>
<text x="1339" y="651.2">-10</text>
</g>
<g font-size="13.5" fill="#555">
<text transform="translate(1389,506.8) rotate(-90)" text-anchor="middle">TMI (nT)</text>
<text transform="translate(1372,600.4) rotate(-90)" text-anchor="middle">Depth (m)</text>
</g>
<g font-size="13" fill="#555" text-anchor="middle">
<text x="742.0" y="667.0">0</text>
<text x="864.5" y="667.0">2.5</text>
<text x="987.0" y="667.0">5</text>
<text x="1109.5" y="667.0">7.5</text>
<text x="1232.0" y="667.0">10</text>
</g>
</g>
<rect x="700" y="662.5" width="695" height="10" fill="#fff"/>
</svg></body></html>
